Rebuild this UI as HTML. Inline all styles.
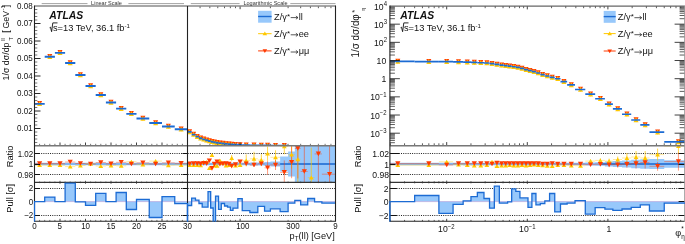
<!DOCTYPE html>
<html><head><meta charset="utf-8"><style>
html,body{margin:0;padding:0;background:#fff;width:685px;height:244px;overflow:hidden;}
svg{display:block;font-family:"Liberation Sans", sans-serif;will-change:transform;}
</style></head><body>
<svg width="685" height="244" viewBox="0 0 685 244" font-family='"Liberation Sans", sans-serif' fill="#111"><defs><clipPath id="clL"><rect x="33.5" y="182.3" width="301.5" height="39.49999999999998"/></clipPath><clipPath id="clR"><rect x="388.9" y="182.3" width="296.70000000000005" height="39.49999999999998"/></clipPath><clipPath id="clLr"><rect x="34.5" y="145.9" width="301.0" height="36.400000000000006"/></clipPath><clipPath id="clRr"><rect x="389.9" y="145.9" width="294.70000000000005" height="36.400000000000006"/></clipPath><clipPath id="clLt"><rect x="34.5" y="6.0" width="301.0" height="139.5"/></clipPath><clipPath id="clRt"><rect x="389.9" y="6.0" width="294.70000000000005" height="139.5"/></clipPath></defs>
<line x1="34.50" y1="188.50" x2="335.50" y2="188.50" stroke="#222" stroke-width="1.0" stroke-dasharray="1 1.22"/>
<line x1="34.50" y1="215.50" x2="335.50" y2="215.50" stroke="#222" stroke-width="1.0" stroke-dasharray="1 1.22"/>
<path d="M34.50,201.6 L34.50,201.60 L44.70,201.60 L44.70,197.10 L54.90,197.10 L54.90,201.60 L65.10,201.60 L65.10,183.10 L75.30,183.10 L75.30,201.80 L85.50,201.80 L85.50,205.30 L95.70,205.30 L95.70,193.30 L105.90,193.30 L105.90,201.60 L116.10,201.60 L116.10,192.50 L126.30,192.50 L126.30,209.50 L136.50,209.50 L136.50,199.40 L149.25,199.40 L149.25,217.50 L162.00,217.50 L162.00,196.60 L174.75,196.60 L174.75,203.60 L187.50,203.60 L187.50,201.6 Z" fill="#97c8fb" clip-path="url(#clL)"/>
<path d="M187.50,201.6 L187.50,205.50 L191.66,205.50 L191.66,198.10 L195.47,198.10 L195.47,200.20 L198.96,200.20 L198.96,203.50 L202.20,203.50 L202.20,207.10 L205.21,207.10 L205.21,207.10 L208.03,207.10 L208.03,191.60 L210.68,191.60 L210.68,208.00 L213.18,208.00 L213.18,223.00 L215.54,223.00 L215.54,196.10 L218.51,196.10 L218.51,209.30 L221.28,209.30 L221.28,203.50 L224.52,203.50 L224.52,206.00 L227.53,206.00 L227.53,207.10 L230.35,207.10 L230.35,210.40 L233.00,210.40 L233.00,208.20 L237.86,208.20 L237.86,198.60 L242.23,198.60 L242.23,210.70 L249.85,210.70 L249.85,212.50 L257.82,212.50 L257.82,206.30 L264.55,206.30 L264.55,211.20 L270.39,211.20 L270.39,208.80 L280.13,208.80 L280.13,211.60 L288.10,211.60 L288.10,203.10 L294.83,203.10 L294.83,200.30 L300.67,200.30 L300.67,204.90 L307.71,204.90 L307.71,198.50 L314.58,198.50 L314.58,201.80 L321.88,201.80 L321.88,203.10 L336.10,203.10 L336.10,201.6 Z" fill="#97c8fb" clip-path="url(#clL)"/>
<line x1="34.50" y1="201.60" x2="335.50" y2="201.60" stroke="#b9a6dc" stroke-width="0.7" />
<line x1="34.50" y1="153.50" x2="335.50" y2="153.50" stroke="#222" stroke-width="1.0" stroke-dasharray="1 1.22"/>
<line x1="34.50" y1="174.50" x2="335.50" y2="174.50" stroke="#222" stroke-width="1.0" stroke-dasharray="1 1.22"/>
<path d="M34.50,162.80 L44.70,162.80 L44.70,162.80 L54.90,162.80 L54.90,162.80 L65.10,162.80 L65.10,162.80 L75.30,162.80 L75.30,162.80 L85.50,162.80 L85.50,162.80 L95.70,162.80 L95.70,162.80 L105.90,162.80 L105.90,162.80 L116.10,162.80 L116.10,162.80 L126.30,162.80 L126.30,162.80 L136.50,162.80 L136.50,162.80 L149.25,162.80 L149.25,162.80 L162.00,162.80 L162.00,162.80 L174.75,162.80 L174.75,162.80 L187.50,162.80 L187.50,162.80 L191.66,162.80 L191.66,162.80 L195.47,162.80 L195.47,162.80 L198.96,162.80 L198.96,162.80 L202.20,162.80 L202.20,162.80 L205.21,162.80 L205.21,162.80 L208.03,162.80 L208.03,162.80 L210.68,162.80 L210.68,162.80 L213.18,162.80 L213.18,162.80 L215.54,162.80 L215.54,162.80 L218.51,162.80 L218.51,162.80 L221.28,162.80 L221.28,162.80 L224.52,162.80 L224.52,162.80 L227.53,162.80 L227.53,162.80 L230.35,162.80 L230.35,162.80 L233.00,162.80 L233.00,162.80 L237.86,162.80 L237.86,162.80 L242.23,162.80 L242.23,162.70 L249.85,162.70 L249.85,162.60 L257.82,162.60 L257.82,162.40 L264.55,162.40 L264.55,162.10 L270.39,162.10 L270.39,161.50 L280.13,161.50 L280.13,156.60 L288.10,156.60 L288.10,151.50 L294.83,151.50 L294.83,134.00 L300.67,134.00 L300.67,134.00 L307.71,134.00 L307.71,134.00 L314.58,134.00 L314.58,134.00 L321.88,134.00 L321.88,134.00 L336.10,134.00 L336.10,194.00 L321.88,194.00 L321.88,194.00 L314.58,194.00 L314.58,194.00 L307.71,194.00 L307.71,194.00 L300.67,194.00 L300.67,194.00 L294.83,194.00 L294.83,176.50 L288.10,176.50 L288.10,171.40 L280.13,171.40 L280.13,166.50 L270.39,166.50 L270.39,165.90 L264.55,165.90 L264.55,165.60 L257.82,165.60 L257.82,165.40 L249.85,165.40 L249.85,165.30 L242.23,165.30 L242.23,165.20 L237.86,165.20 L237.86,165.20 L233.00,165.20 L233.00,165.20 L230.35,165.20 L230.35,165.20 L227.53,165.20 L227.53,165.20 L224.52,165.20 L224.52,165.20 L221.28,165.20 L221.28,165.20 L218.51,165.20 L218.51,165.20 L215.54,165.20 L215.54,165.20 L213.18,165.20 L213.18,165.20 L210.68,165.20 L210.68,165.20 L208.03,165.20 L208.03,165.20 L205.21,165.20 L205.21,165.20 L202.20,165.20 L202.20,165.20 L198.96,165.20 L198.96,165.20 L195.47,165.20 L195.47,165.20 L191.66,165.20 L191.66,165.20 L187.50,165.20 L187.50,165.20 L174.75,165.20 L174.75,165.20 L162.00,165.20 L162.00,165.20 L149.25,165.20 L149.25,165.20 L136.50,165.20 L136.50,165.20 L126.30,165.20 L126.30,165.20 L116.10,165.20 L116.10,165.20 L105.90,165.20 L105.90,165.20 L95.70,165.20 L95.70,165.20 L85.50,165.20 L85.50,165.20 L75.30,165.20 L75.30,165.20 L65.10,165.20 L65.10,165.20 L54.90,165.20 L54.90,165.20 L44.70,165.20 L44.70,165.20 L34.50,165.20 Z" fill="#97c8fb" clip-path="url(#clLr)"/>
<line x1="34.50" y1="164.00" x2="335.50" y2="164.00" stroke="#1c6bd3" stroke-width="0.7" stroke-opacity="0.5"/>
<line x1="280.13" y1="164.00" x2="335.50" y2="164.00" stroke="#1c6bd3" stroke-width="1.4" />
<g clip-path="url(#clLr)">
<line x1="34.50" y1="165.10" x2="44.70" y2="165.10" stroke="#ffc800" stroke-width="0.7" stroke-opacity="0.55"/>
<line x1="34.50" y1="163.60" x2="44.70" y2="163.60" stroke="#ff3a00" stroke-width="0.7" stroke-opacity="0.6"/>
<line x1="44.70" y1="165.10" x2="54.90" y2="165.10" stroke="#ffc800" stroke-width="0.7" stroke-opacity="0.55"/>
<line x1="44.70" y1="163.60" x2="54.90" y2="163.60" stroke="#ff3a00" stroke-width="0.7" stroke-opacity="0.6"/>
<line x1="54.90" y1="165.10" x2="65.10" y2="165.10" stroke="#ffc800" stroke-width="0.7" stroke-opacity="0.55"/>
<line x1="54.90" y1="163.60" x2="65.10" y2="163.60" stroke="#ff3a00" stroke-width="0.7" stroke-opacity="0.6"/>
<line x1="65.10" y1="166.60" x2="75.30" y2="166.60" stroke="#ffc800" stroke-width="0.7" stroke-opacity="0.55"/>
<line x1="65.10" y1="162.00" x2="75.30" y2="162.00" stroke="#ff3a00" stroke-width="0.7" stroke-opacity="0.6"/>
<line x1="75.30" y1="165.50" x2="85.50" y2="165.50" stroke="#ffc800" stroke-width="0.7" stroke-opacity="0.55"/>
<line x1="75.30" y1="163.50" x2="85.50" y2="163.50" stroke="#ff3a00" stroke-width="0.7" stroke-opacity="0.6"/>
<line x1="85.50" y1="163.80" x2="95.70" y2="163.80" stroke="#ffc800" stroke-width="0.7" stroke-opacity="0.55"/>
<line x1="85.50" y1="164.00" x2="95.70" y2="164.00" stroke="#ff3a00" stroke-width="0.7" stroke-opacity="0.6"/>
<line x1="95.70" y1="166.00" x2="105.90" y2="166.00" stroke="#ffc800" stroke-width="0.7" stroke-opacity="0.55"/>
<line x1="95.70" y1="162.60" x2="105.90" y2="162.60" stroke="#ff3a00" stroke-width="0.7" stroke-opacity="0.6"/>
<line x1="105.90" y1="165.50" x2="116.10" y2="165.50" stroke="#ffc800" stroke-width="0.7" stroke-opacity="0.55"/>
<line x1="105.90" y1="163.80" x2="116.10" y2="163.80" stroke="#ff3a00" stroke-width="0.7" stroke-opacity="0.6"/>
<line x1="116.10" y1="165.80" x2="126.30" y2="165.80" stroke="#ffc800" stroke-width="0.7" stroke-opacity="0.55"/>
<line x1="116.10" y1="162.30" x2="126.30" y2="162.30" stroke="#ff3a00" stroke-width="0.7" stroke-opacity="0.6"/>
<line x1="126.30" y1="161.70" x2="136.50" y2="161.70" stroke="#ffc800" stroke-width="0.7" stroke-opacity="0.55"/>
<line x1="126.30" y1="164.00" x2="136.50" y2="164.00" stroke="#ff3a00" stroke-width="0.7" stroke-opacity="0.6"/>
<line x1="136.50" y1="164.60" x2="149.25" y2="164.60" stroke="#ffc800" stroke-width="0.7" stroke-opacity="0.55"/>
<line x1="136.50" y1="162.90" x2="149.25" y2="162.90" stroke="#ff3a00" stroke-width="0.7" stroke-opacity="0.6"/>
<line x1="149.25" y1="161.10" x2="162.00" y2="161.10" stroke="#ffc800" stroke-width="0.7" stroke-opacity="0.55"/>
<line x1="149.25" y1="164.00" x2="162.00" y2="164.00" stroke="#ff3a00" stroke-width="0.7" stroke-opacity="0.6"/>
<line x1="162.00" y1="165.20" x2="174.75" y2="165.20" stroke="#ffc800" stroke-width="0.7" stroke-opacity="0.55"/>
<line x1="162.00" y1="162.90" x2="174.75" y2="162.90" stroke="#ff3a00" stroke-width="0.7" stroke-opacity="0.6"/>
<line x1="174.75" y1="165.00" x2="187.50" y2="165.00" stroke="#ffc800" stroke-width="0.7" stroke-opacity="0.55"/>
<line x1="174.75" y1="163.40" x2="187.50" y2="163.40" stroke="#ff3a00" stroke-width="0.7" stroke-opacity="0.6"/>
<line x1="187.50" y1="165.00" x2="191.66" y2="165.00" stroke="#ffc800" stroke-width="0.7" stroke-opacity="0.55"/>
<line x1="187.50" y1="163.80" x2="191.66" y2="163.80" stroke="#ff3a00" stroke-width="0.7" stroke-opacity="0.6"/>
<line x1="191.66" y1="165.10" x2="195.47" y2="165.10" stroke="#ffc800" stroke-width="0.7" stroke-opacity="0.55"/>
<line x1="191.66" y1="163.60" x2="195.47" y2="163.60" stroke="#ff3a00" stroke-width="0.7" stroke-opacity="0.6"/>
<line x1="195.47" y1="165.10" x2="198.96" y2="165.10" stroke="#ffc800" stroke-width="0.7" stroke-opacity="0.55"/>
<line x1="195.47" y1="163.60" x2="198.96" y2="163.60" stroke="#ff3a00" stroke-width="0.7" stroke-opacity="0.6"/>
<line x1="198.96" y1="165.30" x2="202.20" y2="165.30" stroke="#ffc800" stroke-width="0.7" stroke-opacity="0.55"/>
<line x1="198.96" y1="163.90" x2="202.20" y2="163.90" stroke="#ff3a00" stroke-width="0.7" stroke-opacity="0.6"/>
<line x1="202.20" y1="162.10" x2="205.21" y2="162.10" stroke="#ffc800" stroke-width="0.7" stroke-opacity="0.55"/>
<line x1="202.20" y1="163.30" x2="205.21" y2="163.30" stroke="#ff3a00" stroke-width="0.7" stroke-opacity="0.6"/>
<line x1="205.21" y1="162.10" x2="208.03" y2="162.10" stroke="#ffc800" stroke-width="0.7" stroke-opacity="0.55"/>
<line x1="205.21" y1="163.60" x2="208.03" y2="163.60" stroke="#ff3a00" stroke-width="0.7" stroke-opacity="0.6"/>
<line x1="208.03" y1="168.10" x2="210.68" y2="168.10" stroke="#ffc800" stroke-width="0.7" stroke-opacity="0.55"/>
<line x1="208.03" y1="160.70" x2="210.68" y2="160.70" stroke="#ff3a00" stroke-width="0.7" stroke-opacity="0.6"/>
<line x1="210.68" y1="154.90" x2="213.18" y2="154.90" stroke="#ffc800" stroke-width="0.7" stroke-opacity="0.55"/>
<line x1="210.68" y1="168.40" x2="213.18" y2="168.40" stroke="#ff3a00" stroke-width="0.7" stroke-opacity="0.6"/>
<line x1="213.18" y1="165.40" x2="215.54" y2="165.40" stroke="#ffc800" stroke-width="0.7" stroke-opacity="0.55"/>
<line x1="213.18" y1="164.10" x2="215.54" y2="164.10" stroke="#ff3a00" stroke-width="0.7" stroke-opacity="0.6"/>
<line x1="215.54" y1="165.80" x2="218.51" y2="165.80" stroke="#ffc800" stroke-width="0.7" stroke-opacity="0.55"/>
<line x1="215.54" y1="161.90" x2="218.51" y2="161.90" stroke="#ff3a00" stroke-width="0.7" stroke-opacity="0.6"/>
<line x1="218.51" y1="160.40" x2="221.28" y2="160.40" stroke="#ffc800" stroke-width="0.7" stroke-opacity="0.55"/>
<line x1="218.51" y1="164.10" x2="221.28" y2="164.10" stroke="#ff3a00" stroke-width="0.7" stroke-opacity="0.6"/>
<line x1="221.28" y1="162.70" x2="224.52" y2="162.70" stroke="#ffc800" stroke-width="0.7" stroke-opacity="0.55"/>
<line x1="221.28" y1="163.90" x2="224.52" y2="163.90" stroke="#ff3a00" stroke-width="0.7" stroke-opacity="0.6"/>
<line x1="224.52" y1="165.60" x2="227.53" y2="165.60" stroke="#ffc800" stroke-width="0.7" stroke-opacity="0.55"/>
<line x1="224.52" y1="163.60" x2="227.53" y2="163.60" stroke="#ff3a00" stroke-width="0.7" stroke-opacity="0.6"/>
<line x1="227.53" y1="165.10" x2="230.35" y2="165.10" stroke="#ffc800" stroke-width="0.7" stroke-opacity="0.55"/>
<line x1="227.53" y1="164.10" x2="230.35" y2="164.10" stroke="#ff3a00" stroke-width="0.7" stroke-opacity="0.6"/>
<line x1="230.35" y1="158.00" x2="233.00" y2="158.00" stroke="#ffc800" stroke-width="0.7" stroke-opacity="0.55"/>
<line x1="230.35" y1="166.10" x2="233.00" y2="166.10" stroke="#ff3a00" stroke-width="0.7" stroke-opacity="0.6"/>
<line x1="233.00" y1="165.40" x2="237.86" y2="165.40" stroke="#ffc800" stroke-width="0.7" stroke-opacity="0.55"/>
<line x1="233.00" y1="164.60" x2="237.86" y2="164.60" stroke="#ff3a00" stroke-width="0.7" stroke-opacity="0.6"/>
<line x1="237.86" y1="165.00" x2="242.23" y2="165.00" stroke="#ffc800" stroke-width="0.7" stroke-opacity="0.55"/>
<line x1="237.86" y1="161.90" x2="242.23" y2="161.90" stroke="#ff3a00" stroke-width="0.7" stroke-opacity="0.6"/>
<line x1="242.23" y1="160.40" x2="249.85" y2="160.40" stroke="#ffc800" stroke-width="0.7" stroke-opacity="0.55"/>
<line x1="242.23" y1="163.80" x2="249.85" y2="163.80" stroke="#ff3a00" stroke-width="0.7" stroke-opacity="0.6"/>
<line x1="249.85" y1="158.80" x2="257.82" y2="158.80" stroke="#ffc800" stroke-width="0.7" stroke-opacity="0.55"/>
<line x1="249.85" y1="165.00" x2="257.82" y2="165.00" stroke="#ff3a00" stroke-width="0.7" stroke-opacity="0.6"/>
<line x1="257.82" y1="160.10" x2="264.55" y2="160.10" stroke="#ffc800" stroke-width="0.7" stroke-opacity="0.55"/>
<line x1="257.82" y1="163.80" x2="264.55" y2="163.80" stroke="#ff3a00" stroke-width="0.7" stroke-opacity="0.6"/>
<line x1="264.55" y1="153.60" x2="270.39" y2="153.60" stroke="#ffc800" stroke-width="0.7" stroke-opacity="0.55"/>
<line x1="264.55" y1="167.80" x2="270.39" y2="167.80" stroke="#ff3a00" stroke-width="0.7" stroke-opacity="0.6"/>
<line x1="270.39" y1="157.30" x2="280.13" y2="157.30" stroke="#ffc800" stroke-width="0.7" stroke-opacity="0.55"/>
<line x1="270.39" y1="165.00" x2="280.13" y2="165.00" stroke="#ff3a00" stroke-width="0.7" stroke-opacity="0.6"/>
<line x1="280.13" y1="146.30" x2="288.10" y2="146.30" stroke="#ffc800" stroke-width="0.7" stroke-opacity="0.55"/>
<line x1="280.13" y1="172.40" x2="288.10" y2="172.40" stroke="#ff3a00" stroke-width="0.7" stroke-opacity="0.6"/>
<line x1="288.10" y1="154.60" x2="294.83" y2="154.60" stroke="#ffc800" stroke-width="0.7" stroke-opacity="0.55"/>
<line x1="288.10" y1="162.20" x2="294.83" y2="162.20" stroke="#ff3a00" stroke-width="0.7" stroke-opacity="0.6"/>
<line x1="294.83" y1="159.20" x2="300.67" y2="159.20" stroke="#ffc800" stroke-width="0.7" stroke-opacity="0.55"/>
<line x1="294.83" y1="148.40" x2="300.67" y2="148.40" stroke="#ff3a00" stroke-width="0.7" stroke-opacity="0.6"/>
<line x1="300.67" y1="205.10" x2="307.71" y2="205.10" stroke="#ffc800" stroke-width="0.7" stroke-opacity="0.55"/>
<line x1="300.67" y1="171.50" x2="307.71" y2="171.50" stroke="#ff3a00" stroke-width="0.7" stroke-opacity="0.6"/>
<line x1="307.71" y1="177.60" x2="314.58" y2="177.60" stroke="#ffc800" stroke-width="0.7" stroke-opacity="0.55"/>
<line x1="307.71" y1="193.60" x2="314.58" y2="193.60" stroke="#ff3a00" stroke-width="0.7" stroke-opacity="0.6"/>
<line x1="314.58" y1="205.10" x2="321.88" y2="205.10" stroke="#ffc800" stroke-width="0.7" stroke-opacity="0.55"/>
<line x1="314.58" y1="153.90" x2="321.88" y2="153.90" stroke="#ff3a00" stroke-width="0.7" stroke-opacity="0.6"/>
<line x1="321.88" y1="205.10" x2="336.10" y2="205.10" stroke="#ffc800" stroke-width="0.7" stroke-opacity="0.55"/>
<line x1="321.88" y1="174.20" x2="336.10" y2="174.20" stroke="#ff3a00" stroke-width="0.7" stroke-opacity="0.6"/>
<line x1="231.70" y1="155.00" x2="231.70" y2="161.00" stroke="#ffc800" stroke-width="1.0" stroke-opacity="0.7"/>
<line x1="240.10" y1="163.50" x2="240.10" y2="166.50" stroke="#ffc800" stroke-width="1.0" stroke-opacity="0.7"/>
<line x1="246.21" y1="154.40" x2="246.21" y2="166.40" stroke="#ffc800" stroke-width="1.0" stroke-opacity="0.7"/>
<line x1="246.21" y1="162.30" x2="246.21" y2="165.30" stroke="#ff3a00" stroke-width="1.0" stroke-opacity="0.5"/>
<line x1="254.01" y1="151.80" x2="254.01" y2="165.80" stroke="#ffc800" stroke-width="1.0" stroke-opacity="0.7"/>
<line x1="254.01" y1="163.00" x2="254.01" y2="167.00" stroke="#ff3a00" stroke-width="1.0" stroke-opacity="0.5"/>
<line x1="261.31" y1="154.10" x2="261.31" y2="166.10" stroke="#ffc800" stroke-width="1.0" stroke-opacity="0.7"/>
<line x1="261.31" y1="161.80" x2="261.31" y2="165.80" stroke="#ff3a00" stroke-width="1.0" stroke-opacity="0.5"/>
<line x1="267.57" y1="146.60" x2="267.57" y2="160.60" stroke="#ffc800" stroke-width="1.0" stroke-opacity="0.7"/>
<line x1="267.57" y1="160.80" x2="267.57" y2="174.80" stroke="#ff3a00" stroke-width="1.0" stroke-opacity="0.5"/>
<line x1="275.53" y1="150.30" x2="275.53" y2="164.30" stroke="#ffc800" stroke-width="1.0" stroke-opacity="0.7"/>
<line x1="275.53" y1="160.00" x2="275.53" y2="170.00" stroke="#ff3a00" stroke-width="1.0" stroke-opacity="0.5"/>
<line x1="284.30" y1="138.30" x2="284.30" y2="154.30" stroke="#ffc800" stroke-width="1.0" stroke-opacity="0.7"/>
<line x1="284.30" y1="160.40" x2="284.30" y2="184.40" stroke="#ff3a00" stroke-width="1.0" stroke-opacity="0.5"/>
<line x1="291.60" y1="140.60" x2="291.60" y2="168.60" stroke="#ffc800" stroke-width="1.0" stroke-opacity="0.7"/>
<line x1="291.60" y1="146.20" x2="291.60" y2="178.20" stroke="#ff3a00" stroke-width="1.0" stroke-opacity="0.5"/>
<line x1="297.85" y1="129.20" x2="297.85" y2="189.20" stroke="#ffc800" stroke-width="1.0" stroke-opacity="0.7"/>
<line x1="297.85" y1="118.40" x2="297.85" y2="178.40" stroke="#ff3a00" stroke-width="1.0" stroke-opacity="0.5"/>
<line x1="304.33" y1="141.50" x2="304.33" y2="201.50" stroke="#ff3a00" stroke-width="1.0" stroke-opacity="0.5"/>
<line x1="311.28" y1="147.60" x2="311.28" y2="207.60" stroke="#ffc800" stroke-width="1.0" stroke-opacity="0.7"/>
<line x1="318.38" y1="123.90" x2="318.38" y2="183.90" stroke="#ff3a00" stroke-width="1.0" stroke-opacity="0.5"/>
<line x1="329.57" y1="144.20" x2="329.57" y2="204.20" stroke="#ff3a00" stroke-width="1.0" stroke-opacity="0.5"/>
<polygon points="37.20,167.10 42.00,167.10 39.60,163.10" fill="#ffc800"/>
<polygon points="47.40,167.10 52.20,167.10 49.80,163.10" fill="#ffc800"/>
<polygon points="57.60,167.10 62.40,167.10 60.00,163.10" fill="#ffc800"/>
<polygon points="67.80,168.60 72.60,168.60 70.20,164.60" fill="#ffc800"/>
<polygon points="78.00,167.50 82.80,167.50 80.40,163.50" fill="#ffc800"/>
<polygon points="88.20,165.80 93.00,165.80 90.60,161.80" fill="#ffc800"/>
<polygon points="98.40,168.00 103.20,168.00 100.80,164.00" fill="#ffc800"/>
<polygon points="108.60,167.50 113.40,167.50 111.00,163.50" fill="#ffc800"/>
<polygon points="118.80,167.80 123.60,167.80 121.20,163.80" fill="#ffc800"/>
<polygon points="129.00,163.70 133.80,163.70 131.40,159.70" fill="#ffc800"/>
<polygon points="140.47,166.60 145.28,166.60 142.88,162.60" fill="#ffc800"/>
<polygon points="153.22,163.10 158.03,163.10 155.62,159.10" fill="#ffc800"/>
<polygon points="165.97,167.20 170.78,167.20 168.38,163.20" fill="#ffc800"/>
<polygon points="178.72,167.00 183.53,167.00 181.12,163.00" fill="#ffc800"/>
<polygon points="187.23,167.00 192.03,167.00 189.63,163.00" fill="#ffc800"/>
<polygon points="191.21,167.10 196.01,167.10 193.61,163.10" fill="#ffc800"/>
<polygon points="194.85,167.10 199.65,167.10 197.25,163.10" fill="#ffc800"/>
<polygon points="198.21,167.30 203.01,167.30 200.61,163.30" fill="#ffc800"/>
<polygon points="201.33,164.10 206.13,164.10 203.73,160.10" fill="#ffc800"/>
<polygon points="204.25,164.10 209.05,164.10 206.65,160.10" fill="#ffc800"/>
<polygon points="206.98,170.10 211.78,170.10 209.38,166.10" fill="#ffc800"/>
<polygon points="209.55,156.90 214.35,156.90 211.95,152.90" fill="#ffc800"/>
<polygon points="211.98,167.40 216.78,167.40 214.38,163.40" fill="#ffc800"/>
<polygon points="214.65,167.80 219.45,167.80 217.05,163.80" fill="#ffc800"/>
<polygon points="217.52,162.40 222.32,162.40 219.92,158.40" fill="#ffc800"/>
<polygon points="220.53,164.70 225.33,164.70 222.93,160.70" fill="#ffc800"/>
<polygon points="223.65,167.60 228.45,167.60 226.05,163.60" fill="#ffc800"/>
<polygon points="226.57,167.10 231.37,167.10 228.97,163.10" fill="#ffc800"/>
<polygon points="229.30,160.00 234.10,160.00 231.70,156.00" fill="#ffc800"/>
<polygon points="233.10,167.40 237.90,167.40 235.50,163.40" fill="#ffc800"/>
<polygon points="237.70,167.00 242.50,167.00 240.10,163.00" fill="#ffc800"/>
<polygon points="243.81,162.40 248.61,162.40 246.21,158.40" fill="#ffc800"/>
<polygon points="251.61,160.80 256.41,160.80 254.01,156.80" fill="#ffc800"/>
<polygon points="258.91,162.10 263.71,162.10 261.31,158.10" fill="#ffc800"/>
<polygon points="265.17,155.60 269.97,155.60 267.57,151.60" fill="#ffc800"/>
<polygon points="273.13,159.30 277.93,159.30 275.53,155.30" fill="#ffc800"/>
<polygon points="281.90,148.30 286.70,148.30 284.30,144.30" fill="#ffc800"/>
<polygon points="289.20,156.60 294.00,156.60 291.60,152.60" fill="#ffc800"/>
<polygon points="295.45,161.20 300.25,161.20 297.85,157.20" fill="#ffc800"/>
<polygon points="301.93,207.10 306.73,207.10 304.33,203.10" fill="#ffc800"/>
<polygon points="308.88,179.60 313.68,179.60 311.28,175.60" fill="#ffc800"/>
<polygon points="315.98,207.10 320.78,207.10 318.38,203.10" fill="#ffc800"/>
<polygon points="327.17,207.10 331.97,207.10 329.57,203.10" fill="#ffc800"/>
<polygon points="37.00,161.30 42.20,161.30 39.60,165.90" fill="#ff3a00"/>
<polygon points="47.20,161.30 52.40,161.30 49.80,165.90" fill="#ff3a00"/>
<polygon points="57.40,161.30 62.60,161.30 60.00,165.90" fill="#ff3a00"/>
<polygon points="67.60,159.70 72.80,159.70 70.20,164.30" fill="#ff3a00"/>
<polygon points="77.80,161.20 83.00,161.20 80.40,165.80" fill="#ff3a00"/>
<polygon points="88.00,161.70 93.20,161.70 90.60,166.30" fill="#ff3a00"/>
<polygon points="98.20,160.30 103.40,160.30 100.80,164.90" fill="#ff3a00"/>
<polygon points="108.40,161.50 113.60,161.50 111.00,166.10" fill="#ff3a00"/>
<polygon points="118.60,160.00 123.80,160.00 121.20,164.60" fill="#ff3a00"/>
<polygon points="128.80,161.70 134.00,161.70 131.40,166.30" fill="#ff3a00"/>
<polygon points="140.28,160.60 145.47,160.60 142.88,165.20" fill="#ff3a00"/>
<polygon points="153.03,161.70 158.22,161.70 155.62,166.30" fill="#ff3a00"/>
<polygon points="165.78,160.60 170.97,160.60 168.38,165.20" fill="#ff3a00"/>
<polygon points="178.53,161.10 183.72,161.10 181.12,165.70" fill="#ff3a00"/>
<polygon points="187.03,161.50 192.23,161.50 189.63,166.10" fill="#ff3a00"/>
<polygon points="191.01,161.30 196.21,161.30 193.61,165.90" fill="#ff3a00"/>
<polygon points="194.65,161.30 199.85,161.30 197.25,165.90" fill="#ff3a00"/>
<polygon points="198.01,161.60 203.21,161.60 200.61,166.20" fill="#ff3a00"/>
<polygon points="201.13,161.00 206.33,161.00 203.73,165.60" fill="#ff3a00"/>
<polygon points="204.05,161.30 209.25,161.30 206.65,165.90" fill="#ff3a00"/>
<polygon points="206.78,158.40 211.98,158.40 209.38,163.00" fill="#ff3a00"/>
<polygon points="209.35,166.10 214.55,166.10 211.95,170.70" fill="#ff3a00"/>
<polygon points="211.78,161.80 216.98,161.80 214.38,166.40" fill="#ff3a00"/>
<polygon points="214.45,159.60 219.65,159.60 217.05,164.20" fill="#ff3a00"/>
<polygon points="217.32,161.80 222.52,161.80 219.92,166.40" fill="#ff3a00"/>
<polygon points="220.33,161.60 225.53,161.60 222.93,166.20" fill="#ff3a00"/>
<polygon points="223.45,161.30 228.65,161.30 226.05,165.90" fill="#ff3a00"/>
<polygon points="226.37,161.80 231.57,161.80 228.97,166.40" fill="#ff3a00"/>
<polygon points="229.10,163.80 234.30,163.80 231.70,168.40" fill="#ff3a00"/>
<polygon points="232.90,162.30 238.10,162.30 235.50,166.90" fill="#ff3a00"/>
<polygon points="237.50,159.60 242.70,159.60 240.10,164.20" fill="#ff3a00"/>
<polygon points="243.61,161.50 248.81,161.50 246.21,166.10" fill="#ff3a00"/>
<polygon points="251.41,162.70 256.61,162.70 254.01,167.30" fill="#ff3a00"/>
<polygon points="258.71,161.50 263.91,161.50 261.31,166.10" fill="#ff3a00"/>
<polygon points="264.97,165.50 270.17,165.50 267.57,170.10" fill="#ff3a00"/>
<polygon points="272.93,162.70 278.13,162.70 275.53,167.30" fill="#ff3a00"/>
<polygon points="281.70,170.10 286.90,170.10 284.30,174.70" fill="#ff3a00"/>
<polygon points="289.00,159.90 294.20,159.90 291.60,164.50" fill="#ff3a00"/>
<polygon points="295.25,146.10 300.45,146.10 297.85,150.70" fill="#ff3a00"/>
<polygon points="301.73,169.20 306.93,169.20 304.33,173.80" fill="#ff3a00"/>
<polygon points="308.68,191.30 313.88,191.30 311.28,195.90" fill="#ff3a00"/>
<polygon points="315.78,151.60 320.98,151.60 318.38,156.20" fill="#ff3a00"/>
<polygon points="326.97,171.90 332.17,171.90 329.57,176.50" fill="#ff3a00"/>
</g>
<g clip-path="url(#clLt)">
<polygon points="37.10,101.10 42.10,101.10 39.60,106.10" fill="#ff3a00"/>
<polygon points="47.30,54.00 52.30,54.00 49.80,59.00" fill="#ff3a00"/>
<polygon points="57.50,50.10 62.50,50.10 60.00,55.10" fill="#ff3a00"/>
<polygon points="67.70,60.30 72.70,60.30 70.20,65.30" fill="#ff3a00"/>
<polygon points="77.90,72.20 82.90,72.20 80.40,77.20" fill="#ff3a00"/>
<polygon points="88.10,83.20 93.10,83.20 90.60,88.20" fill="#ff3a00"/>
<polygon points="98.30,92.30 103.30,92.30 100.80,97.30" fill="#ff3a00"/>
<polygon points="108.50,99.70 113.50,99.70 111.00,104.70" fill="#ff3a00"/>
<polygon points="118.70,105.90 123.70,105.90 121.20,110.90" fill="#ff3a00"/>
<polygon points="128.90,111.10 133.90,111.10 131.40,116.10" fill="#ff3a00"/>
<polygon points="140.38,115.80 145.38,115.80 142.88,120.80" fill="#ff3a00"/>
<polygon points="153.12,120.30 158.12,120.30 155.62,125.30" fill="#ff3a00"/>
<polygon points="165.88,123.80 170.88,123.80 168.38,128.80" fill="#ff3a00"/>
<polygon points="178.62,126.50 183.62,126.50 181.12,131.50" fill="#ff3a00"/>
<polygon points="187.13,129.15 192.13,129.15 189.63,134.15" fill="#ff3a00"/>
<polygon points="191.11,131.87 196.11,131.87 193.61,136.87" fill="#ff3a00"/>
<polygon points="194.75,133.89 199.75,133.89 197.25,138.89" fill="#ff3a00"/>
<polygon points="198.11,135.43 203.11,135.43 200.61,140.43" fill="#ff3a00"/>
<polygon points="201.23,136.62 206.23,136.62 203.73,141.62" fill="#ff3a00"/>
<polygon points="204.15,137.56 209.15,137.56 206.65,142.56" fill="#ff3a00"/>
<polygon points="206.88,138.32 211.88,138.32 209.38,143.32" fill="#ff3a00"/>
<polygon points="209.45,138.94 214.45,138.94 211.95,143.94" fill="#ff3a00"/>
<polygon points="211.88,139.44 216.88,139.44 214.38,144.44" fill="#ff3a00"/>
<polygon points="214.55,139.93 219.55,139.93 217.05,144.93" fill="#ff3a00"/>
<polygon points="217.42,140.38 222.42,140.38 219.92,145.38" fill="#ff3a00"/>
<polygon points="220.43,140.78 225.43,140.78 222.93,145.78" fill="#ff3a00"/>
<polygon points="223.55,141.13 228.55,141.13 226.05,146.13" fill="#ff3a00"/>
<polygon points="226.47,141.40 231.47,141.40 228.97,146.40" fill="#ff3a00"/>
<polygon points="229.20,141.63 234.20,141.63 231.70,146.63" fill="#ff3a00"/>
<polygon points="233.00,141.89 238.00,141.89 235.50,146.89" fill="#ff3a00"/>
<polygon points="237.60,142.13 242.60,142.13 240.10,147.13" fill="#ff3a00"/>
<polygon points="243.71,142.38 248.71,142.38 246.21,147.38" fill="#ff3a00"/>
<polygon points="251.51,142.60 256.51,142.60 254.01,147.60" fill="#ff3a00"/>
<polygon points="258.81,142.73 263.81,142.73 261.31,147.73" fill="#ff3a00"/>
<polygon points="265.07,142.81 270.07,142.81 267.57,147.81" fill="#ff3a00"/>
<polygon points="273.03,142.88 278.03,142.88 275.53,147.88" fill="#ff3a00"/>
<polygon points="281.80,142.92 286.80,142.92 284.30,147.92" fill="#ff3a00"/>
<polygon points="37.10,106.10 42.10,106.10 39.60,101.10" fill="#ffc800"/>
<polygon points="47.30,59.00 52.30,59.00 49.80,54.00" fill="#ffc800"/>
<polygon points="57.50,55.10 62.50,55.10 60.00,50.10" fill="#ffc800"/>
<polygon points="67.70,65.30 72.70,65.30 70.20,60.30" fill="#ffc800"/>
<polygon points="77.90,77.20 82.90,77.20 80.40,72.20" fill="#ffc800"/>
<polygon points="88.10,88.20 93.10,88.20 90.60,83.20" fill="#ffc800"/>
<polygon points="98.30,97.30 103.30,97.30 100.80,92.30" fill="#ffc800"/>
<polygon points="108.50,104.70 113.50,104.70 111.00,99.70" fill="#ffc800"/>
<polygon points="118.70,110.90 123.70,110.90 121.20,105.90" fill="#ffc800"/>
<polygon points="128.90,116.10 133.90,116.10 131.40,111.10" fill="#ffc800"/>
<polygon points="140.38,120.80 145.38,120.80 142.88,115.80" fill="#ffc800"/>
<polygon points="153.12,125.30 158.12,125.30 155.62,120.30" fill="#ffc800"/>
<polygon points="165.88,128.80 170.88,128.80 168.38,123.80" fill="#ffc800"/>
<polygon points="178.62,131.50 183.62,131.50 181.12,126.50" fill="#ffc800"/>
<polygon points="187.13,134.15 192.13,134.15 189.63,129.15" fill="#ffc800"/>
<polygon points="191.11,136.87 196.11,136.87 193.61,131.87" fill="#ffc800"/>
<polygon points="194.75,138.89 199.75,138.89 197.25,133.89" fill="#ffc800"/>
<polygon points="198.11,140.43 203.11,140.43 200.61,135.43" fill="#ffc800"/>
<polygon points="201.23,141.62 206.23,141.62 203.73,136.62" fill="#ffc800"/>
<polygon points="204.15,142.56 209.15,142.56 206.65,137.56" fill="#ffc800"/>
<polygon points="206.88,143.32 211.88,143.32 209.38,138.32" fill="#ffc800"/>
<polygon points="209.45,143.94 214.45,143.94 211.95,138.94" fill="#ffc800"/>
<polygon points="211.88,144.44 216.88,144.44 214.38,139.44" fill="#ffc800"/>
<polygon points="214.55,144.93 219.55,144.93 217.05,139.93" fill="#ffc800"/>
<polygon points="217.42,145.38 222.42,145.38 219.92,140.38" fill="#ffc800"/>
<polygon points="220.43,145.78 225.43,145.78 222.93,140.78" fill="#ffc800"/>
<polygon points="223.55,146.13 228.55,146.13 226.05,141.13" fill="#ffc800"/>
<polygon points="226.47,146.40 231.47,146.40 228.97,141.40" fill="#ffc800"/>
<polygon points="229.20,146.63 234.20,146.63 231.70,141.63" fill="#ffc800"/>
<polygon points="233.00,146.89 238.00,146.89 235.50,141.89" fill="#ffc800"/>
<polygon points="237.60,147.13 242.60,147.13 240.10,142.13" fill="#ffc800"/>
<polygon points="243.71,147.38 248.71,147.38 246.21,142.38" fill="#ffc800"/>
<polygon points="251.51,147.60 256.51,147.60 254.01,142.60" fill="#ffc800"/>
<polygon points="258.81,147.73 263.81,147.73 261.31,142.73" fill="#ffc800"/>
<polygon points="265.07,147.81 270.07,147.81 267.57,142.81" fill="#ffc800"/>
<polygon points="273.03,147.88 278.03,147.88 275.53,142.88" fill="#ffc800"/>
<polygon points="281.80,147.92 286.80,147.92 284.30,142.92" fill="#ffc800"/>
<line x1="34.50" y1="103.85" x2="44.70" y2="103.85" stroke="#1c6bd3" stroke-width="1.9" />
<line x1="44.70" y1="56.75" x2="54.90" y2="56.75" stroke="#1c6bd3" stroke-width="1.9" />
<line x1="54.90" y1="52.85" x2="65.10" y2="52.85" stroke="#1c6bd3" stroke-width="1.9" />
<line x1="65.10" y1="63.05" x2="75.30" y2="63.05" stroke="#1c6bd3" stroke-width="1.9" />
<line x1="75.30" y1="74.95" x2="85.50" y2="74.95" stroke="#1c6bd3" stroke-width="1.9" />
<line x1="85.50" y1="85.95" x2="95.70" y2="85.95" stroke="#1c6bd3" stroke-width="1.9" />
<line x1="95.70" y1="95.05" x2="105.90" y2="95.05" stroke="#1c6bd3" stroke-width="1.9" />
<line x1="105.90" y1="102.45" x2="116.10" y2="102.45" stroke="#1c6bd3" stroke-width="1.9" />
<line x1="116.10" y1="108.65" x2="126.30" y2="108.65" stroke="#1c6bd3" stroke-width="1.9" />
<line x1="126.30" y1="113.85" x2="136.50" y2="113.85" stroke="#1c6bd3" stroke-width="1.9" />
<line x1="136.50" y1="118.55" x2="149.25" y2="118.55" stroke="#1c6bd3" stroke-width="1.9" />
<line x1="149.25" y1="123.05" x2="162.00" y2="123.05" stroke="#1c6bd3" stroke-width="1.9" />
<line x1="162.00" y1="126.55" x2="174.75" y2="126.55" stroke="#1c6bd3" stroke-width="1.9" />
<line x1="174.75" y1="129.25" x2="187.50" y2="129.25" stroke="#1c6bd3" stroke-width="1.9" />
<line x1="187.50" y1="131.90" x2="191.66" y2="131.90" stroke="#1c6bd3" stroke-width="1.9" />
<line x1="191.66" y1="134.62" x2="195.47" y2="134.62" stroke="#1c6bd3" stroke-width="1.9" />
<line x1="195.47" y1="136.64" x2="198.96" y2="136.64" stroke="#1c6bd3" stroke-width="1.9" />
<line x1="198.96" y1="138.18" x2="202.20" y2="138.18" stroke="#1c6bd3" stroke-width="1.9" />
<line x1="202.20" y1="139.37" x2="205.21" y2="139.37" stroke="#1c6bd3" stroke-width="1.9" />
<line x1="205.21" y1="140.31" x2="208.03" y2="140.31" stroke="#1c6bd3" stroke-width="1.9" />
<line x1="208.03" y1="141.07" x2="210.68" y2="141.07" stroke="#1c6bd3" stroke-width="1.9" />
<line x1="210.68" y1="141.69" x2="213.18" y2="141.69" stroke="#1c6bd3" stroke-width="1.9" />
<line x1="213.18" y1="142.19" x2="215.54" y2="142.19" stroke="#1c6bd3" stroke-width="1.9" />
<line x1="215.54" y1="142.68" x2="218.51" y2="142.68" stroke="#1c6bd3" stroke-width="1.9" />
<line x1="218.51" y1="143.13" x2="221.28" y2="143.13" stroke="#1c6bd3" stroke-width="1.9" />
<line x1="221.28" y1="143.53" x2="224.52" y2="143.53" stroke="#1c6bd3" stroke-width="1.9" />
<line x1="224.52" y1="143.88" x2="227.53" y2="143.88" stroke="#1c6bd3" stroke-width="1.9" />
<line x1="227.53" y1="144.15" x2="230.35" y2="144.15" stroke="#1c6bd3" stroke-width="1.9" />
<line x1="230.35" y1="144.38" x2="233.00" y2="144.38" stroke="#1c6bd3" stroke-width="1.9" />
<line x1="233.00" y1="144.64" x2="237.86" y2="144.64" stroke="#1c6bd3" stroke-width="1.9" />
<line x1="237.86" y1="144.88" x2="242.23" y2="144.88" stroke="#1c6bd3" stroke-width="1.9" />
<line x1="242.23" y1="145.13" x2="249.85" y2="145.13" stroke="#1c6bd3" stroke-width="1.9" />
<line x1="249.85" y1="145.35" x2="257.82" y2="145.35" stroke="#1c6bd3" stroke-width="1.9" />
<line x1="257.82" y1="145.48" x2="264.55" y2="145.48" stroke="#1c6bd3" stroke-width="1.9" />
<line x1="264.55" y1="145.56" x2="270.39" y2="145.56" stroke="#1c6bd3" stroke-width="1.9" />
<line x1="270.39" y1="145.63" x2="280.13" y2="145.63" stroke="#1c6bd3" stroke-width="1.9" />
<line x1="280.13" y1="145.67" x2="288.10" y2="145.67" stroke="#1c6bd3" stroke-width="1.9" />
</g>
<line x1="34.50" y1="142.50" x2="37.30" y2="142.50" stroke="#555" stroke-width="0.8" />
<line x1="34.50" y1="139.00" x2="37.30" y2="139.00" stroke="#555" stroke-width="0.8" />
<line x1="34.50" y1="135.50" x2="37.30" y2="135.50" stroke="#555" stroke-width="0.8" />
<line x1="34.50" y1="132.00" x2="37.30" y2="132.00" stroke="#555" stroke-width="0.8" />
<line x1="34.50" y1="128.50" x2="40.50" y2="128.50" stroke="#111" stroke-width="0.9" />
<line x1="34.50" y1="125.00" x2="37.30" y2="125.00" stroke="#555" stroke-width="0.8" />
<line x1="34.50" y1="121.50" x2="37.30" y2="121.50" stroke="#555" stroke-width="0.8" />
<line x1="34.50" y1="118.00" x2="37.30" y2="118.00" stroke="#555" stroke-width="0.8" />
<line x1="34.50" y1="114.50" x2="37.30" y2="114.50" stroke="#555" stroke-width="0.8" />
<line x1="34.50" y1="111.00" x2="40.50" y2="111.00" stroke="#111" stroke-width="0.9" />
<line x1="34.50" y1="107.50" x2="37.30" y2="107.50" stroke="#555" stroke-width="0.8" />
<line x1="34.50" y1="104.00" x2="37.30" y2="104.00" stroke="#555" stroke-width="0.8" />
<line x1="34.50" y1="100.50" x2="37.30" y2="100.50" stroke="#555" stroke-width="0.8" />
<line x1="34.50" y1="97.00" x2="37.30" y2="97.00" stroke="#555" stroke-width="0.8" />
<line x1="34.50" y1="93.50" x2="40.50" y2="93.50" stroke="#111" stroke-width="0.9" />
<line x1="34.50" y1="90.00" x2="37.30" y2="90.00" stroke="#555" stroke-width="0.8" />
<line x1="34.50" y1="86.50" x2="37.30" y2="86.50" stroke="#555" stroke-width="0.8" />
<line x1="34.50" y1="83.00" x2="37.30" y2="83.00" stroke="#555" stroke-width="0.8" />
<line x1="34.50" y1="79.50" x2="37.30" y2="79.50" stroke="#555" stroke-width="0.8" />
<line x1="34.50" y1="76.00" x2="40.50" y2="76.00" stroke="#111" stroke-width="0.9" />
<line x1="34.50" y1="72.50" x2="37.30" y2="72.50" stroke="#555" stroke-width="0.8" />
<line x1="34.50" y1="69.00" x2="37.30" y2="69.00" stroke="#555" stroke-width="0.8" />
<line x1="34.50" y1="65.50" x2="37.30" y2="65.50" stroke="#555" stroke-width="0.8" />
<line x1="34.50" y1="62.00" x2="37.30" y2="62.00" stroke="#555" stroke-width="0.8" />
<line x1="34.50" y1="58.50" x2="40.50" y2="58.50" stroke="#111" stroke-width="0.9" />
<line x1="34.50" y1="55.00" x2="37.30" y2="55.00" stroke="#555" stroke-width="0.8" />
<line x1="34.50" y1="51.50" x2="37.30" y2="51.50" stroke="#555" stroke-width="0.8" />
<line x1="34.50" y1="48.00" x2="37.30" y2="48.00" stroke="#555" stroke-width="0.8" />
<line x1="34.50" y1="44.50" x2="37.30" y2="44.50" stroke="#555" stroke-width="0.8" />
<line x1="34.50" y1="41.00" x2="40.50" y2="41.00" stroke="#111" stroke-width="0.9" />
<line x1="34.50" y1="37.50" x2="37.30" y2="37.50" stroke="#555" stroke-width="0.8" />
<line x1="34.50" y1="34.00" x2="37.30" y2="34.00" stroke="#555" stroke-width="0.8" />
<line x1="34.50" y1="30.50" x2="37.30" y2="30.50" stroke="#555" stroke-width="0.8" />
<line x1="34.50" y1="27.00" x2="37.30" y2="27.00" stroke="#555" stroke-width="0.8" />
<line x1="34.50" y1="23.50" x2="40.50" y2="23.50" stroke="#111" stroke-width="0.9" />
<line x1="34.50" y1="20.00" x2="37.30" y2="20.00" stroke="#555" stroke-width="0.8" />
<line x1="34.50" y1="16.50" x2="37.30" y2="16.50" stroke="#555" stroke-width="0.8" />
<line x1="34.50" y1="13.00" x2="37.30" y2="13.00" stroke="#555" stroke-width="0.8" />
<line x1="34.50" y1="9.50" x2="37.30" y2="9.50" stroke="#555" stroke-width="0.8" />
<line x1="39.60" y1="145.50" x2="39.60" y2="143.80" stroke="#555" stroke-width="0.8" />
<line x1="39.60" y1="182.30" x2="39.60" y2="181.45" stroke="#555" stroke-width="0.7" />
<line x1="39.60" y1="182.30" x2="39.60" y2="183.15" stroke="#555" stroke-width="0.7" />
<line x1="39.60" y1="221.20" x2="39.60" y2="219.90" stroke="#555" stroke-width="0.8" />
<line x1="44.70" y1="145.50" x2="44.70" y2="143.80" stroke="#555" stroke-width="0.8" />
<line x1="44.70" y1="182.30" x2="44.70" y2="181.45" stroke="#555" stroke-width="0.7" />
<line x1="44.70" y1="182.30" x2="44.70" y2="183.15" stroke="#555" stroke-width="0.7" />
<line x1="44.70" y1="221.20" x2="44.70" y2="219.90" stroke="#555" stroke-width="0.8" />
<line x1="49.80" y1="145.50" x2="49.80" y2="143.80" stroke="#555" stroke-width="0.8" />
<line x1="49.80" y1="182.30" x2="49.80" y2="181.45" stroke="#555" stroke-width="0.7" />
<line x1="49.80" y1="182.30" x2="49.80" y2="183.15" stroke="#555" stroke-width="0.7" />
<line x1="49.80" y1="221.20" x2="49.80" y2="219.90" stroke="#555" stroke-width="0.8" />
<line x1="54.90" y1="145.50" x2="54.90" y2="143.80" stroke="#555" stroke-width="0.8" />
<line x1="54.90" y1="182.30" x2="54.90" y2="181.45" stroke="#555" stroke-width="0.7" />
<line x1="54.90" y1="182.30" x2="54.90" y2="183.15" stroke="#555" stroke-width="0.7" />
<line x1="54.90" y1="221.20" x2="54.90" y2="219.90" stroke="#555" stroke-width="0.8" />
<line x1="60.00" y1="145.50" x2="60.00" y2="142.50" stroke="#111" stroke-width="0.8" />
<line x1="60.00" y1="182.30" x2="60.00" y2="180.80" stroke="#111" stroke-width="0.7" />
<line x1="60.00" y1="182.30" x2="60.00" y2="183.80" stroke="#111" stroke-width="0.7" />
<line x1="60.00" y1="221.20" x2="60.00" y2="218.80" stroke="#111" stroke-width="0.8" />
<line x1="65.10" y1="145.50" x2="65.10" y2="143.80" stroke="#555" stroke-width="0.8" />
<line x1="65.10" y1="182.30" x2="65.10" y2="181.45" stroke="#555" stroke-width="0.7" />
<line x1="65.10" y1="182.30" x2="65.10" y2="183.15" stroke="#555" stroke-width="0.7" />
<line x1="65.10" y1="221.20" x2="65.10" y2="219.90" stroke="#555" stroke-width="0.8" />
<line x1="70.20" y1="145.50" x2="70.20" y2="143.80" stroke="#555" stroke-width="0.8" />
<line x1="70.20" y1="182.30" x2="70.20" y2="181.45" stroke="#555" stroke-width="0.7" />
<line x1="70.20" y1="182.30" x2="70.20" y2="183.15" stroke="#555" stroke-width="0.7" />
<line x1="70.20" y1="221.20" x2="70.20" y2="219.90" stroke="#555" stroke-width="0.8" />
<line x1="75.30" y1="145.50" x2="75.30" y2="143.80" stroke="#555" stroke-width="0.8" />
<line x1="75.30" y1="182.30" x2="75.30" y2="181.45" stroke="#555" stroke-width="0.7" />
<line x1="75.30" y1="182.30" x2="75.30" y2="183.15" stroke="#555" stroke-width="0.7" />
<line x1="75.30" y1="221.20" x2="75.30" y2="219.90" stroke="#555" stroke-width="0.8" />
<line x1="80.40" y1="145.50" x2="80.40" y2="143.80" stroke="#555" stroke-width="0.8" />
<line x1="80.40" y1="182.30" x2="80.40" y2="181.45" stroke="#555" stroke-width="0.7" />
<line x1="80.40" y1="182.30" x2="80.40" y2="183.15" stroke="#555" stroke-width="0.7" />
<line x1="80.40" y1="221.20" x2="80.40" y2="219.90" stroke="#555" stroke-width="0.8" />
<line x1="85.50" y1="145.50" x2="85.50" y2="142.50" stroke="#111" stroke-width="0.8" />
<line x1="85.50" y1="182.30" x2="85.50" y2="180.80" stroke="#111" stroke-width="0.7" />
<line x1="85.50" y1="182.30" x2="85.50" y2="183.80" stroke="#111" stroke-width="0.7" />
<line x1="85.50" y1="221.20" x2="85.50" y2="218.80" stroke="#111" stroke-width="0.8" />
<line x1="90.60" y1="145.50" x2="90.60" y2="143.80" stroke="#555" stroke-width="0.8" />
<line x1="90.60" y1="182.30" x2="90.60" y2="181.45" stroke="#555" stroke-width="0.7" />
<line x1="90.60" y1="182.30" x2="90.60" y2="183.15" stroke="#555" stroke-width="0.7" />
<line x1="90.60" y1="221.20" x2="90.60" y2="219.90" stroke="#555" stroke-width="0.8" />
<line x1="95.70" y1="145.50" x2="95.70" y2="143.80" stroke="#555" stroke-width="0.8" />
<line x1="95.70" y1="182.30" x2="95.70" y2="181.45" stroke="#555" stroke-width="0.7" />
<line x1="95.70" y1="182.30" x2="95.70" y2="183.15" stroke="#555" stroke-width="0.7" />
<line x1="95.70" y1="221.20" x2="95.70" y2="219.90" stroke="#555" stroke-width="0.8" />
<line x1="100.80" y1="145.50" x2="100.80" y2="143.80" stroke="#555" stroke-width="0.8" />
<line x1="100.80" y1="182.30" x2="100.80" y2="181.45" stroke="#555" stroke-width="0.7" />
<line x1="100.80" y1="182.30" x2="100.80" y2="183.15" stroke="#555" stroke-width="0.7" />
<line x1="100.80" y1="221.20" x2="100.80" y2="219.90" stroke="#555" stroke-width="0.8" />
<line x1="105.90" y1="145.50" x2="105.90" y2="143.80" stroke="#555" stroke-width="0.8" />
<line x1="105.90" y1="182.30" x2="105.90" y2="181.45" stroke="#555" stroke-width="0.7" />
<line x1="105.90" y1="182.30" x2="105.90" y2="183.15" stroke="#555" stroke-width="0.7" />
<line x1="105.90" y1="221.20" x2="105.90" y2="219.90" stroke="#555" stroke-width="0.8" />
<line x1="111.00" y1="145.50" x2="111.00" y2="142.50" stroke="#111" stroke-width="0.8" />
<line x1="111.00" y1="182.30" x2="111.00" y2="180.80" stroke="#111" stroke-width="0.7" />
<line x1="111.00" y1="182.30" x2="111.00" y2="183.80" stroke="#111" stroke-width="0.7" />
<line x1="111.00" y1="221.20" x2="111.00" y2="218.80" stroke="#111" stroke-width="0.8" />
<line x1="116.10" y1="145.50" x2="116.10" y2="143.80" stroke="#555" stroke-width="0.8" />
<line x1="116.10" y1="182.30" x2="116.10" y2="181.45" stroke="#555" stroke-width="0.7" />
<line x1="116.10" y1="182.30" x2="116.10" y2="183.15" stroke="#555" stroke-width="0.7" />
<line x1="116.10" y1="221.20" x2="116.10" y2="219.90" stroke="#555" stroke-width="0.8" />
<line x1="121.20" y1="145.50" x2="121.20" y2="143.80" stroke="#555" stroke-width="0.8" />
<line x1="121.20" y1="182.30" x2="121.20" y2="181.45" stroke="#555" stroke-width="0.7" />
<line x1="121.20" y1="182.30" x2="121.20" y2="183.15" stroke="#555" stroke-width="0.7" />
<line x1="121.20" y1="221.20" x2="121.20" y2="219.90" stroke="#555" stroke-width="0.8" />
<line x1="126.30" y1="145.50" x2="126.30" y2="143.80" stroke="#555" stroke-width="0.8" />
<line x1="126.30" y1="182.30" x2="126.30" y2="181.45" stroke="#555" stroke-width="0.7" />
<line x1="126.30" y1="182.30" x2="126.30" y2="183.15" stroke="#555" stroke-width="0.7" />
<line x1="126.30" y1="221.20" x2="126.30" y2="219.90" stroke="#555" stroke-width="0.8" />
<line x1="131.40" y1="145.50" x2="131.40" y2="143.80" stroke="#555" stroke-width="0.8" />
<line x1="131.40" y1="182.30" x2="131.40" y2="181.45" stroke="#555" stroke-width="0.7" />
<line x1="131.40" y1="182.30" x2="131.40" y2="183.15" stroke="#555" stroke-width="0.7" />
<line x1="131.40" y1="221.20" x2="131.40" y2="219.90" stroke="#555" stroke-width="0.8" />
<line x1="136.50" y1="145.50" x2="136.50" y2="142.50" stroke="#111" stroke-width="0.8" />
<line x1="136.50" y1="182.30" x2="136.50" y2="180.80" stroke="#111" stroke-width="0.7" />
<line x1="136.50" y1="182.30" x2="136.50" y2="183.80" stroke="#111" stroke-width="0.7" />
<line x1="136.50" y1="221.20" x2="136.50" y2="218.80" stroke="#111" stroke-width="0.8" />
<line x1="141.60" y1="145.50" x2="141.60" y2="143.80" stroke="#555" stroke-width="0.8" />
<line x1="141.60" y1="182.30" x2="141.60" y2="181.45" stroke="#555" stroke-width="0.7" />
<line x1="141.60" y1="182.30" x2="141.60" y2="183.15" stroke="#555" stroke-width="0.7" />
<line x1="141.60" y1="221.20" x2="141.60" y2="219.90" stroke="#555" stroke-width="0.8" />
<line x1="146.70" y1="145.50" x2="146.70" y2="143.80" stroke="#555" stroke-width="0.8" />
<line x1="146.70" y1="182.30" x2="146.70" y2="181.45" stroke="#555" stroke-width="0.7" />
<line x1="146.70" y1="182.30" x2="146.70" y2="183.15" stroke="#555" stroke-width="0.7" />
<line x1="146.70" y1="221.20" x2="146.70" y2="219.90" stroke="#555" stroke-width="0.8" />
<line x1="151.80" y1="145.50" x2="151.80" y2="143.80" stroke="#555" stroke-width="0.8" />
<line x1="151.80" y1="182.30" x2="151.80" y2="181.45" stroke="#555" stroke-width="0.7" />
<line x1="151.80" y1="182.30" x2="151.80" y2="183.15" stroke="#555" stroke-width="0.7" />
<line x1="151.80" y1="221.20" x2="151.80" y2="219.90" stroke="#555" stroke-width="0.8" />
<line x1="156.90" y1="145.50" x2="156.90" y2="143.80" stroke="#555" stroke-width="0.8" />
<line x1="156.90" y1="182.30" x2="156.90" y2="181.45" stroke="#555" stroke-width="0.7" />
<line x1="156.90" y1="182.30" x2="156.90" y2="183.15" stroke="#555" stroke-width="0.7" />
<line x1="156.90" y1="221.20" x2="156.90" y2="219.90" stroke="#555" stroke-width="0.8" />
<line x1="162.00" y1="145.50" x2="162.00" y2="142.50" stroke="#111" stroke-width="0.8" />
<line x1="162.00" y1="182.30" x2="162.00" y2="180.80" stroke="#111" stroke-width="0.7" />
<line x1="162.00" y1="182.30" x2="162.00" y2="183.80" stroke="#111" stroke-width="0.7" />
<line x1="162.00" y1="221.20" x2="162.00" y2="218.80" stroke="#111" stroke-width="0.8" />
<line x1="167.10" y1="145.50" x2="167.10" y2="143.80" stroke="#555" stroke-width="0.8" />
<line x1="167.10" y1="182.30" x2="167.10" y2="181.45" stroke="#555" stroke-width="0.7" />
<line x1="167.10" y1="182.30" x2="167.10" y2="183.15" stroke="#555" stroke-width="0.7" />
<line x1="167.10" y1="221.20" x2="167.10" y2="219.90" stroke="#555" stroke-width="0.8" />
<line x1="172.20" y1="145.50" x2="172.20" y2="143.80" stroke="#555" stroke-width="0.8" />
<line x1="172.20" y1="182.30" x2="172.20" y2="181.45" stroke="#555" stroke-width="0.7" />
<line x1="172.20" y1="182.30" x2="172.20" y2="183.15" stroke="#555" stroke-width="0.7" />
<line x1="172.20" y1="221.20" x2="172.20" y2="219.90" stroke="#555" stroke-width="0.8" />
<line x1="177.30" y1="145.50" x2="177.30" y2="143.80" stroke="#555" stroke-width="0.8" />
<line x1="177.30" y1="182.30" x2="177.30" y2="181.45" stroke="#555" stroke-width="0.7" />
<line x1="177.30" y1="182.30" x2="177.30" y2="183.15" stroke="#555" stroke-width="0.7" />
<line x1="177.30" y1="221.20" x2="177.30" y2="219.90" stroke="#555" stroke-width="0.8" />
<line x1="182.40" y1="145.50" x2="182.40" y2="143.80" stroke="#555" stroke-width="0.8" />
<line x1="182.40" y1="182.30" x2="182.40" y2="181.45" stroke="#555" stroke-width="0.7" />
<line x1="182.40" y1="182.30" x2="182.40" y2="183.15" stroke="#555" stroke-width="0.7" />
<line x1="182.40" y1="221.20" x2="182.40" y2="219.90" stroke="#555" stroke-width="0.8" />
<line x1="200.07" y1="145.50" x2="200.07" y2="143.80" stroke="#555" stroke-width="0.8" />
<line x1="200.07" y1="182.30" x2="200.07" y2="181.45" stroke="#555" stroke-width="0.7" />
<line x1="200.07" y1="182.30" x2="200.07" y2="183.15" stroke="#555" stroke-width="0.7" />
<line x1="200.07" y1="221.20" x2="200.07" y2="219.90" stroke="#555" stroke-width="0.8" />
<line x1="209.82" y1="145.50" x2="209.82" y2="143.80" stroke="#555" stroke-width="0.8" />
<line x1="209.82" y1="182.30" x2="209.82" y2="181.45" stroke="#555" stroke-width="0.7" />
<line x1="209.82" y1="182.30" x2="209.82" y2="183.15" stroke="#555" stroke-width="0.7" />
<line x1="209.82" y1="221.20" x2="209.82" y2="219.90" stroke="#555" stroke-width="0.8" />
<line x1="217.78" y1="145.50" x2="217.78" y2="143.80" stroke="#555" stroke-width="0.8" />
<line x1="217.78" y1="182.30" x2="217.78" y2="181.45" stroke="#555" stroke-width="0.7" />
<line x1="217.78" y1="182.30" x2="217.78" y2="183.15" stroke="#555" stroke-width="0.7" />
<line x1="217.78" y1="221.20" x2="217.78" y2="219.90" stroke="#555" stroke-width="0.8" />
<line x1="224.52" y1="145.50" x2="224.52" y2="143.80" stroke="#555" stroke-width="0.8" />
<line x1="224.52" y1="182.30" x2="224.52" y2="181.45" stroke="#555" stroke-width="0.7" />
<line x1="224.52" y1="182.30" x2="224.52" y2="183.15" stroke="#555" stroke-width="0.7" />
<line x1="224.52" y1="221.20" x2="224.52" y2="219.90" stroke="#555" stroke-width="0.8" />
<line x1="230.35" y1="145.50" x2="230.35" y2="143.80" stroke="#555" stroke-width="0.8" />
<line x1="230.35" y1="182.30" x2="230.35" y2="181.45" stroke="#555" stroke-width="0.7" />
<line x1="230.35" y1="182.30" x2="230.35" y2="183.15" stroke="#555" stroke-width="0.7" />
<line x1="230.35" y1="221.20" x2="230.35" y2="219.90" stroke="#555" stroke-width="0.8" />
<line x1="235.50" y1="145.50" x2="235.50" y2="143.80" stroke="#555" stroke-width="0.8" />
<line x1="235.50" y1="182.30" x2="235.50" y2="181.45" stroke="#555" stroke-width="0.7" />
<line x1="235.50" y1="182.30" x2="235.50" y2="183.15" stroke="#555" stroke-width="0.7" />
<line x1="235.50" y1="221.20" x2="235.50" y2="219.90" stroke="#555" stroke-width="0.8" />
<line x1="240.10" y1="145.50" x2="240.10" y2="142.50" stroke="#111" stroke-width="0.8" />
<line x1="240.10" y1="182.30" x2="240.10" y2="180.80" stroke="#111" stroke-width="0.7" />
<line x1="240.10" y1="182.30" x2="240.10" y2="183.80" stroke="#111" stroke-width="0.7" />
<line x1="240.10" y1="221.20" x2="240.10" y2="218.80" stroke="#111" stroke-width="0.8" />
<line x1="270.39" y1="145.50" x2="270.39" y2="143.80" stroke="#555" stroke-width="0.8" />
<line x1="270.39" y1="182.30" x2="270.39" y2="181.45" stroke="#555" stroke-width="0.7" />
<line x1="270.39" y1="182.30" x2="270.39" y2="183.15" stroke="#555" stroke-width="0.7" />
<line x1="270.39" y1="221.20" x2="270.39" y2="219.90" stroke="#555" stroke-width="0.8" />
<line x1="288.10" y1="145.50" x2="288.10" y2="143.80" stroke="#555" stroke-width="0.8" />
<line x1="288.10" y1="182.30" x2="288.10" y2="181.45" stroke="#555" stroke-width="0.7" />
<line x1="288.10" y1="182.30" x2="288.10" y2="183.15" stroke="#555" stroke-width="0.7" />
<line x1="288.10" y1="221.20" x2="288.10" y2="219.90" stroke="#555" stroke-width="0.8" />
<line x1="300.67" y1="145.50" x2="300.67" y2="143.80" stroke="#555" stroke-width="0.8" />
<line x1="300.67" y1="182.30" x2="300.67" y2="181.45" stroke="#555" stroke-width="0.7" />
<line x1="300.67" y1="182.30" x2="300.67" y2="183.15" stroke="#555" stroke-width="0.7" />
<line x1="300.67" y1="221.20" x2="300.67" y2="219.90" stroke="#555" stroke-width="0.8" />
<line x1="310.42" y1="145.50" x2="310.42" y2="143.80" stroke="#555" stroke-width="0.8" />
<line x1="310.42" y1="182.30" x2="310.42" y2="181.45" stroke="#555" stroke-width="0.7" />
<line x1="310.42" y1="182.30" x2="310.42" y2="183.15" stroke="#555" stroke-width="0.7" />
<line x1="310.42" y1="221.20" x2="310.42" y2="219.90" stroke="#555" stroke-width="0.8" />
<line x1="318.38" y1="145.50" x2="318.38" y2="143.80" stroke="#555" stroke-width="0.8" />
<line x1="318.38" y1="182.30" x2="318.38" y2="181.45" stroke="#555" stroke-width="0.7" />
<line x1="318.38" y1="182.30" x2="318.38" y2="183.15" stroke="#555" stroke-width="0.7" />
<line x1="318.38" y1="221.20" x2="318.38" y2="219.90" stroke="#555" stroke-width="0.8" />
<line x1="325.12" y1="145.50" x2="325.12" y2="143.80" stroke="#555" stroke-width="0.8" />
<line x1="325.12" y1="182.30" x2="325.12" y2="181.45" stroke="#555" stroke-width="0.7" />
<line x1="325.12" y1="182.30" x2="325.12" y2="183.15" stroke="#555" stroke-width="0.7" />
<line x1="325.12" y1="221.20" x2="325.12" y2="219.90" stroke="#555" stroke-width="0.8" />
<line x1="330.95" y1="145.50" x2="330.95" y2="143.80" stroke="#555" stroke-width="0.8" />
<line x1="330.95" y1="182.30" x2="330.95" y2="181.45" stroke="#555" stroke-width="0.7" />
<line x1="330.95" y1="182.30" x2="330.95" y2="183.15" stroke="#555" stroke-width="0.7" />
<line x1="330.95" y1="221.20" x2="330.95" y2="219.90" stroke="#555" stroke-width="0.8" />
<line x1="200.07" y1="6.00" x2="200.07" y2="8.20" stroke="#333" stroke-width="0.8" />
<line x1="209.82" y1="6.00" x2="209.82" y2="8.20" stroke="#333" stroke-width="0.8" />
<line x1="217.78" y1="6.00" x2="217.78" y2="8.20" stroke="#333" stroke-width="0.8" />
<line x1="224.52" y1="6.00" x2="224.52" y2="8.20" stroke="#333" stroke-width="0.8" />
<line x1="230.35" y1="6.00" x2="230.35" y2="8.20" stroke="#333" stroke-width="0.8" />
<line x1="235.50" y1="6.00" x2="235.50" y2="8.20" stroke="#333" stroke-width="0.8" />
<line x1="240.10" y1="6.00" x2="240.10" y2="9.20" stroke="#111" stroke-width="0.8" />
<line x1="270.39" y1="6.00" x2="270.39" y2="8.20" stroke="#333" stroke-width="0.8" />
<line x1="288.10" y1="6.00" x2="288.10" y2="8.20" stroke="#333" stroke-width="0.8" />
<line x1="300.67" y1="6.00" x2="300.67" y2="8.20" stroke="#333" stroke-width="0.8" />
<line x1="310.42" y1="6.00" x2="310.42" y2="8.20" stroke="#333" stroke-width="0.8" />
<line x1="318.38" y1="6.00" x2="318.38" y2="8.20" stroke="#333" stroke-width="0.8" />
<line x1="325.12" y1="6.00" x2="325.12" y2="8.20" stroke="#333" stroke-width="0.8" />
<line x1="330.95" y1="6.00" x2="330.95" y2="8.20" stroke="#333" stroke-width="0.8" />
<line x1="34.50" y1="153.50" x2="40.00" y2="153.50" stroke="#111" stroke-width="1.0" />
<line x1="34.50" y1="164.50" x2="40.00" y2="164.50" stroke="#111" stroke-width="1.0" />
<line x1="34.50" y1="174.50" x2="40.00" y2="174.50" stroke="#111" stroke-width="1.0" />
<line x1="34.50" y1="188.50" x2="40.00" y2="188.50" stroke="#111" stroke-width="1.0" />
<line x1="34.50" y1="201.50" x2="40.00" y2="201.50" stroke="#111" stroke-width="1.0" />
<line x1="34.50" y1="215.50" x2="40.00" y2="215.50" stroke="#111" stroke-width="1.0" />
<line x1="182.50" y1="153.50" x2="187.50" y2="153.50" stroke="#111" stroke-width="1.0" />
<line x1="182.50" y1="174.50" x2="187.50" y2="174.50" stroke="#111" stroke-width="1.0" />
<line x1="182.50" y1="188.50" x2="187.50" y2="188.50" stroke="#111" stroke-width="1.0" />
<line x1="182.50" y1="215.50" x2="187.50" y2="215.50" stroke="#111" stroke-width="1.0" />
<line x1="34.50" y1="6.00" x2="335.50" y2="6.00" stroke="#8a8a8a" stroke-width="1.5" />
<line x1="34.50" y1="145.70" x2="335.50" y2="145.70" stroke="#777" stroke-width="1.4" />
<line x1="34.50" y1="182.30" x2="335.50" y2="182.30" stroke="#333" stroke-width="1.2" />
<line x1="34.50" y1="221.20" x2="335.50" y2="221.20" stroke="#222" stroke-width="1.1" />
<line x1="34.50" y1="5.50" x2="34.50" y2="221.70" stroke="#222" stroke-width="1.1" />
<line x1="335.50" y1="5.50" x2="335.50" y2="221.70" stroke="#222" stroke-width="1.1" />
<line x1="187.50" y1="6.00" x2="187.50" y2="221.20" stroke="#222" stroke-width="1.1" />
<path d="M34.50,221.70 L34.50,201.60 L44.70,201.60 L44.70,197.10 L54.90,197.10 L54.90,201.60 L65.10,201.60 L65.10,183.10 L75.30,183.10 L75.30,201.80 L85.50,201.80 L85.50,205.30 L95.70,205.30 L95.70,193.30 L105.90,193.30 L105.90,201.60 L116.10,201.60 L116.10,192.50 L126.30,192.50 L126.30,209.50 L136.50,209.50 L136.50,199.40 L149.25,199.40 L149.25,217.50 L162.00,217.50 L162.00,196.60 L174.75,196.60 L174.75,203.60 L187.50,203.60 L187.50,221.70" fill="none" stroke="#1c6bd3" stroke-width="1.3" clip-path="url(#clL)"/>
<path d="M187.50,221.70 L187.50,205.50 L191.66,205.50 L191.66,198.10 L195.47,198.10 L195.47,200.20 L198.96,200.20 L198.96,203.50 L202.20,203.50 L202.20,207.10 L205.21,207.10 L205.21,207.10 L208.03,207.10 L208.03,191.60 L210.68,191.60 L210.68,208.00 L213.18,208.00 L213.18,223.00 L215.54,223.00 L215.54,196.10 L218.51,196.10 L218.51,209.30 L221.28,209.30 L221.28,203.50 L224.52,203.50 L224.52,206.00 L227.53,206.00 L227.53,207.10 L230.35,207.10 L230.35,210.40 L233.00,210.40 L233.00,208.20 L237.86,208.20 L237.86,198.60 L242.23,198.60 L242.23,210.70 L249.85,210.70 L249.85,212.50 L257.82,212.50 L257.82,206.30 L264.55,206.30 L264.55,211.20 L270.39,211.20 L270.39,208.80 L280.13,208.80 L280.13,211.60 L288.10,211.60 L288.10,203.10 L294.83,203.10 L294.83,200.30 L300.67,200.30 L300.67,204.90 L307.71,204.90 L307.71,198.50 L314.58,198.50 L314.58,201.80 L321.88,201.80 L321.88,203.10 L336.10,203.10 L336.10,221.70" fill="none" stroke="#1c6bd3" stroke-width="1.3" clip-path="url(#clL)"/>
<text transform="translate(32.60,131.20) scale(0.92,1)" font-size="8.7" text-anchor="end" >0.01</text>
<text transform="translate(32.60,113.70) scale(0.92,1)" font-size="8.7" text-anchor="end" >0.02</text>
<text transform="translate(32.60,96.20) scale(0.92,1)" font-size="8.7" text-anchor="end" >0.03</text>
<text transform="translate(32.60,78.70) scale(0.92,1)" font-size="8.7" text-anchor="end" >0.04</text>
<text transform="translate(32.60,61.20) scale(0.92,1)" font-size="8.7" text-anchor="end" >0.05</text>
<text transform="translate(32.60,43.70) scale(0.92,1)" font-size="8.7" text-anchor="end" >0.06</text>
<text transform="translate(32.60,26.20) scale(0.92,1)" font-size="8.7" text-anchor="end" >0.07</text>
<text transform="translate(32.60,8.70) scale(0.92,1)" font-size="8.7" text-anchor="end" >0.08</text>
<text transform="translate(33.20,156.50) scale(0.92,1)" font-size="8.7" text-anchor="end" >1.02</text>
<text transform="translate(33.20,167.10) scale(0.92,1)" font-size="8.7" text-anchor="end" >1</text>
<text transform="translate(33.20,177.70) scale(0.92,1)" font-size="8.7" text-anchor="end" >0.98</text>
<text transform="translate(33.20,191.20) scale(0.92,1)" font-size="8.7" text-anchor="end" >2</text>
<text transform="translate(33.20,204.70) scale(0.92,1)" font-size="8.7" text-anchor="end" >0</text>
<text transform="translate(33.20,218.20) scale(0.92,1)" font-size="8.7" text-anchor="end" >&#8722;2</text>
<text transform="translate(34.40,229.10) scale(0.92,1)" font-size="8.7" text-anchor="middle" >0</text>
<text transform="translate(59.80,229.10) scale(0.92,1)" font-size="8.7" text-anchor="middle" >5</text>
<text transform="translate(85.60,229.10) scale(0.92,1)" font-size="8.7" text-anchor="middle" >10</text>
<text transform="translate(111.00,229.10) scale(0.92,1)" font-size="8.7" text-anchor="middle" >15</text>
<text transform="translate(136.40,229.10) scale(0.92,1)" font-size="8.7" text-anchor="middle" >20</text>
<text transform="translate(162.00,229.10) scale(0.92,1)" font-size="8.7" text-anchor="middle" >25</text>
<text transform="translate(187.40,229.10) scale(0.92,1)" font-size="8.7" text-anchor="middle" >30</text>
<text transform="translate(242.80,229.10) scale(0.92,1)" font-size="8.7" text-anchor="middle" >100</text>
<text transform="translate(292.90,229.10) scale(0.92,1)" font-size="8.7" text-anchor="middle" >300</text>
<text transform="translate(333.20,229.10) scale(0.92,1)" font-size="8.7" text-anchor="start" >9</text>
<text x="334.8" y="238.6" font-size="9.2" text-anchor="end">p<tspan font-size="6.4" dy="2">T</tspan><tspan dy="-2">(ll) [GeV]</tspan></text>
<g transform="translate(9.1,80.4) rotate(-90) scale(0.93,1)"><text x="0" y="0" font-size="9.5">1/&#963; d&#963;/dp</text><text x="42.90" y="3.9" font-size="5.8">T</text><text x="42.58" y="-4.4" font-size="5.8">ll</text><text x="51.18" y="0" font-size="9.5">[</text><text x="55.81" y="0" font-size="9.5">GeV</text><text x="75.27" y="-3.7" font-size="6.2">-1</text><text x="78.71" y="0" font-size="9.5">]</text></g>
<text transform="translate(13.4,167.3) rotate(-90)" font-size="9.3">Ratio</text>
<text transform="translate(13.4,212.8) rotate(-90)" font-size="9.3">Pull [&#963;]</text>
<line x1="41.70" y1="3.60" x2="87.50" y2="3.60" stroke="#999" stroke-width="0.9" />
<line x1="128.40" y1="3.60" x2="184.00" y2="3.60" stroke="#999" stroke-width="0.9" />
<text transform="translate(106.50,5.30) scale(1.0,1)" font-size="5.55" text-anchor="middle" fill="#333">Linear Scale</text>
<line x1="190.80" y1="3.60" x2="239.60" y2="3.60" stroke="#999" stroke-width="0.9" />
<line x1="290.30" y1="3.60" x2="335.50" y2="3.60" stroke="#999" stroke-width="0.9" />
<text transform="translate(265.50,5.30) scale(1.0,1)" font-size="5.55" text-anchor="middle" fill="#333">Logarithmic Scale</text>
<text transform="translate(49.30,18.50) scale(1.0,1)" font-size="10.4" text-anchor="start" font-weight="bold" font-style="italic">ATLAS</text>
<path d="M49.60,27.70 L50.50,27.20 L51.60,31.70 L52.80,22.90 L57.50,22.90" fill="none" stroke="#111" stroke-width="0.9"/>
<text x="52.90" y="31.30" font-size="9.3">s=13 TeV, 36.1 fb<tspan font-size="6" dy="-3.6">-1</tspan></text>
<rect x="258.10" y="10.80" width="13.50" height="11.90" fill="#97c8fb" />
<line x1="258.10" y1="16.50" x2="271.60" y2="16.50" stroke="#1c6bd3" stroke-width="1.4" />
<line x1="258.10" y1="33.70" x2="271.60" y2="33.70" stroke="#ffc800" stroke-width="1.0" />
<polygon points="262.55,35.30 267.15,35.30 264.85,31.50" fill="#ffc800"/>
<line x1="258.10" y1="50.90" x2="271.60" y2="50.90" stroke="#ff3a00" stroke-width="1.0" />
<polygon points="262.55,49.30 267.15,49.30 264.85,53.10" fill="#ff3a00"/>
<text x="274.10" y="19.80" font-size="9.2">Z/&#947;</text>
<text x="287.00" y="18.80" font-size="8">*</text>
<path d="M290.70,17.60 L297.90,17.60 M295.90,16.00 L298.00,17.60 L295.90,19.20" fill="none" stroke="#222" stroke-width="0.75"/>
<text x="298.70" y="19.80" font-size="9.2">ll</text>
<text x="274.10" y="37.00" font-size="9.2">Z/&#947;</text>
<text x="287.00" y="36.00" font-size="8">*</text>
<path d="M290.70,34.80 L297.90,34.80 M295.90,33.20 L298.00,34.80 L295.90,36.40" fill="none" stroke="#222" stroke-width="0.75"/>
<text x="298.70" y="37.00" font-size="9.2">ee</text>
<text x="274.10" y="54.20" font-size="9.2">Z/&#947;</text>
<text x="287.00" y="53.20" font-size="8">*</text>
<path d="M290.70,52.00 L297.90,52.00 M295.90,50.40 L298.00,52.00 L295.90,53.60" fill="none" stroke="#222" stroke-width="0.75"/>
<text x="298.70" y="54.20" font-size="9.2">&#956;&#956;</text>
<line x1="389.90" y1="188.50" x2="684.60" y2="188.50" stroke="#222" stroke-width="1.0" stroke-dasharray="1 1.22"/>
<line x1="389.90" y1="215.50" x2="684.60" y2="215.50" stroke="#222" stroke-width="1.0" stroke-dasharray="1 1.22"/>
<path d="M389.90,201.6 L389.90,201.60 L414.63,201.60 L414.63,195.50 L438.89,195.50 L438.89,213.30 L453.08,213.30 L453.08,204.30 L463.15,204.30 L463.15,200.80 L470.96,200.80 L470.96,196.60 L477.35,196.60 L477.35,192.50 L483.97,192.50 L483.97,198.50 L489.54,198.50 L489.54,208.20 L494.34,208.20 L494.34,186.10 L499.35,186.10 L499.35,203.10 L503.73,203.10 L503.73,203.10 L507.62,203.10 L507.62,201.80 L511.68,201.80 L511.68,188.90 L515.80,188.90 L515.80,191.40 L519.92,191.40 L519.92,197.90 L524.00,197.90 L524.00,197.90 L527.99,197.90 L527.99,207.30 L531.89,207.30 L531.89,193.50 L535.94,193.50 L535.94,204.90 L540.31,204.90 L540.31,203.60 L544.83,203.60 L544.83,200.80 L549.58,200.80 L549.58,193.50 L554.74,193.50 L554.74,211.90 L560.48,211.90 L560.48,204.00 L567.13,204.00 L567.13,203.10 L575.03,203.10 L575.03,200.70 L585.28,200.70 L585.28,214.10 L595.16,214.10 L595.16,207.70 L604.91,207.70 L604.91,209.20 L612.88,209.20 L612.88,210.40 L622.00,210.40 L622.00,209.00 L631.22,209.00 L631.22,207.30 L640.28,207.30 L640.28,204.90 L649.45,204.90 L649.45,211.00 L664.24,211.00 L664.24,203.20 L688.50,203.20 L688.50,201.6 Z" fill="#97c8fb" clip-path="url(#clR)"/>
<line x1="389.90" y1="201.60" x2="684.60" y2="201.60" stroke="#b9a6dc" stroke-width="0.7" />
<line x1="389.90" y1="153.50" x2="684.60" y2="153.50" stroke="#222" stroke-width="1.0" stroke-dasharray="1 1.22"/>
<line x1="389.90" y1="174.50" x2="684.60" y2="174.50" stroke="#222" stroke-width="1.0" stroke-dasharray="1 1.22"/>
<path d="M389.90,162.80 L414.63,162.80 L414.63,162.80 L438.89,162.80 L438.89,162.80 L453.08,162.80 L453.08,162.80 L463.15,162.80 L463.15,162.80 L470.96,162.80 L470.96,162.80 L477.35,162.80 L477.35,162.80 L483.97,162.80 L483.97,162.80 L489.54,162.80 L489.54,162.80 L494.34,162.80 L494.34,162.80 L499.35,162.80 L499.35,162.80 L503.73,162.80 L503.73,162.80 L507.62,162.80 L507.62,162.80 L511.68,162.80 L511.68,162.80 L515.80,162.80 L515.80,162.80 L519.92,162.80 L519.92,162.80 L524.00,162.80 L524.00,162.80 L527.99,162.80 L527.99,162.80 L531.89,162.80 L531.89,162.80 L535.94,162.80 L535.94,162.80 L540.31,162.80 L540.31,162.80 L544.83,162.80 L544.83,162.80 L549.58,162.80 L549.58,162.80 L554.74,162.80 L554.74,162.80 L560.48,162.80 L560.48,162.80 L567.13,162.80 L567.13,162.80 L575.03,162.80 L575.03,162.80 L585.28,162.80 L585.28,162.60 L595.16,162.60 L595.16,162.20 L604.91,162.20 L604.91,161.60 L612.88,161.60 L612.88,161.00 L622.00,161.00 L622.00,160.40 L631.22,160.40 L631.22,159.80 L640.28,159.80 L640.28,159.20 L649.45,159.20 L649.45,158.90 L664.24,158.90 L664.24,160.20 L688.50,160.20 L688.50,167.80 L664.24,167.80 L664.24,169.10 L649.45,169.10 L649.45,168.80 L640.28,168.80 L640.28,168.20 L631.22,168.20 L631.22,167.60 L622.00,167.60 L622.00,167.00 L612.88,167.00 L612.88,166.40 L604.91,166.40 L604.91,165.80 L595.16,165.80 L595.16,165.40 L585.28,165.40 L585.28,165.20 L575.03,165.20 L575.03,165.20 L567.13,165.20 L567.13,165.20 L560.48,165.20 L560.48,165.20 L554.74,165.20 L554.74,165.20 L549.58,165.20 L549.58,165.20 L544.83,165.20 L544.83,165.20 L540.31,165.20 L540.31,165.20 L535.94,165.20 L535.94,165.20 L531.89,165.20 L531.89,165.20 L527.99,165.20 L527.99,165.20 L524.00,165.20 L524.00,165.20 L519.92,165.20 L519.92,165.20 L515.80,165.20 L515.80,165.20 L511.68,165.20 L511.68,165.20 L507.62,165.20 L507.62,165.20 L503.73,165.20 L503.73,165.20 L499.35,165.20 L499.35,165.20 L494.34,165.20 L494.34,165.20 L489.54,165.20 L489.54,165.20 L483.97,165.20 L483.97,165.20 L477.35,165.20 L477.35,165.20 L470.96,165.20 L470.96,165.20 L463.15,165.20 L463.15,165.20 L453.08,165.20 L453.08,165.20 L438.89,165.20 L438.89,165.20 L414.63,165.20 L414.63,165.20 L389.90,165.20 Z" fill="#97c8fb" clip-path="url(#clRr)"/>
<line x1="389.90" y1="164.00" x2="684.60" y2="164.00" stroke="#1c6bd3" stroke-width="0.7" stroke-opacity="0.5"/>
<line x1="600.00" y1="164.00" x2="684.60" y2="164.00" stroke="#1c6bd3" stroke-width="1.4" />
<g clip-path="url(#clRr)">
<line x1="389.90" y1="165.10" x2="414.63" y2="165.10" stroke="#ffc800" stroke-width="0.7" stroke-opacity="0.55"/>
<line x1="389.90" y1="163.60" x2="414.63" y2="163.60" stroke="#ff3a00" stroke-width="0.7" stroke-opacity="0.6"/>
<line x1="414.63" y1="165.10" x2="438.89" y2="165.10" stroke="#ffc800" stroke-width="0.7" stroke-opacity="0.55"/>
<line x1="414.63" y1="163.60" x2="438.89" y2="163.60" stroke="#ff3a00" stroke-width="0.7" stroke-opacity="0.6"/>
<line x1="438.89" y1="161.80" x2="453.08" y2="161.80" stroke="#ffc800" stroke-width="0.7" stroke-opacity="0.55"/>
<line x1="438.89" y1="165.00" x2="453.08" y2="165.00" stroke="#ff3a00" stroke-width="0.7" stroke-opacity="0.6"/>
<line x1="453.08" y1="164.60" x2="463.15" y2="164.60" stroke="#ffc800" stroke-width="0.7" stroke-opacity="0.55"/>
<line x1="453.08" y1="163.60" x2="463.15" y2="163.60" stroke="#ff3a00" stroke-width="0.7" stroke-opacity="0.6"/>
<line x1="463.15" y1="165.10" x2="470.96" y2="165.10" stroke="#ffc800" stroke-width="0.7" stroke-opacity="0.55"/>
<line x1="463.15" y1="163.60" x2="470.96" y2="163.60" stroke="#ff3a00" stroke-width="0.7" stroke-opacity="0.6"/>
<line x1="470.96" y1="165.60" x2="477.35" y2="165.60" stroke="#ffc800" stroke-width="0.7" stroke-opacity="0.55"/>
<line x1="470.96" y1="163.60" x2="477.35" y2="163.60" stroke="#ff3a00" stroke-width="0.7" stroke-opacity="0.6"/>
<line x1="477.35" y1="165.60" x2="483.97" y2="165.60" stroke="#ffc800" stroke-width="0.7" stroke-opacity="0.55"/>
<line x1="477.35" y1="163.60" x2="483.97" y2="163.60" stroke="#ff3a00" stroke-width="0.7" stroke-opacity="0.6"/>
<line x1="483.97" y1="165.10" x2="489.54" y2="165.10" stroke="#ffc800" stroke-width="0.7" stroke-opacity="0.55"/>
<line x1="483.97" y1="163.60" x2="489.54" y2="163.60" stroke="#ff3a00" stroke-width="0.7" stroke-opacity="0.6"/>
<line x1="489.54" y1="161.80" x2="494.34" y2="161.80" stroke="#ffc800" stroke-width="0.7" stroke-opacity="0.55"/>
<line x1="489.54" y1="164.00" x2="494.34" y2="164.00" stroke="#ff3a00" stroke-width="0.7" stroke-opacity="0.6"/>
<line x1="494.34" y1="166.10" x2="499.35" y2="166.10" stroke="#ffc800" stroke-width="0.7" stroke-opacity="0.55"/>
<line x1="494.34" y1="163.10" x2="499.35" y2="163.10" stroke="#ff3a00" stroke-width="0.7" stroke-opacity="0.6"/>
<line x1="499.35" y1="165.60" x2="503.73" y2="165.60" stroke="#ffc800" stroke-width="0.7" stroke-opacity="0.55"/>
<line x1="499.35" y1="163.60" x2="503.73" y2="163.60" stroke="#ff3a00" stroke-width="0.7" stroke-opacity="0.6"/>
<line x1="503.73" y1="165.60" x2="507.62" y2="165.60" stroke="#ffc800" stroke-width="0.7" stroke-opacity="0.55"/>
<line x1="503.73" y1="163.60" x2="507.62" y2="163.60" stroke="#ff3a00" stroke-width="0.7" stroke-opacity="0.6"/>
<line x1="507.62" y1="165.10" x2="511.68" y2="165.10" stroke="#ffc800" stroke-width="0.7" stroke-opacity="0.55"/>
<line x1="507.62" y1="163.60" x2="511.68" y2="163.60" stroke="#ff3a00" stroke-width="0.7" stroke-opacity="0.6"/>
<line x1="511.68" y1="165.60" x2="515.80" y2="165.60" stroke="#ffc800" stroke-width="0.7" stroke-opacity="0.55"/>
<line x1="511.68" y1="163.60" x2="515.80" y2="163.60" stroke="#ff3a00" stroke-width="0.7" stroke-opacity="0.6"/>
<line x1="515.80" y1="165.60" x2="519.92" y2="165.60" stroke="#ffc800" stroke-width="0.7" stroke-opacity="0.55"/>
<line x1="515.80" y1="163.60" x2="519.92" y2="163.60" stroke="#ff3a00" stroke-width="0.7" stroke-opacity="0.6"/>
<line x1="519.92" y1="165.10" x2="524.00" y2="165.10" stroke="#ffc800" stroke-width="0.7" stroke-opacity="0.55"/>
<line x1="519.92" y1="163.60" x2="524.00" y2="163.60" stroke="#ff3a00" stroke-width="0.7" stroke-opacity="0.6"/>
<line x1="524.00" y1="165.60" x2="527.99" y2="165.60" stroke="#ffc800" stroke-width="0.7" stroke-opacity="0.55"/>
<line x1="524.00" y1="163.60" x2="527.99" y2="163.60" stroke="#ff3a00" stroke-width="0.7" stroke-opacity="0.6"/>
<line x1="527.99" y1="165.10" x2="531.89" y2="165.10" stroke="#ffc800" stroke-width="0.7" stroke-opacity="0.55"/>
<line x1="527.99" y1="163.60" x2="531.89" y2="163.60" stroke="#ff3a00" stroke-width="0.7" stroke-opacity="0.6"/>
<line x1="531.89" y1="164.60" x2="535.94" y2="164.60" stroke="#ffc800" stroke-width="0.7" stroke-opacity="0.55"/>
<line x1="531.89" y1="163.60" x2="535.94" y2="163.60" stroke="#ff3a00" stroke-width="0.7" stroke-opacity="0.6"/>
<line x1="535.94" y1="165.10" x2="540.31" y2="165.10" stroke="#ffc800" stroke-width="0.7" stroke-opacity="0.55"/>
<line x1="535.94" y1="163.60" x2="540.31" y2="163.60" stroke="#ff3a00" stroke-width="0.7" stroke-opacity="0.6"/>
<line x1="540.31" y1="165.30" x2="544.83" y2="165.30" stroke="#ffc800" stroke-width="0.7" stroke-opacity="0.55"/>
<line x1="540.31" y1="164.10" x2="544.83" y2="164.10" stroke="#ff3a00" stroke-width="0.7" stroke-opacity="0.6"/>
<line x1="544.83" y1="165.70" x2="549.58" y2="165.70" stroke="#ffc800" stroke-width="0.7" stroke-opacity="0.55"/>
<line x1="544.83" y1="164.10" x2="549.58" y2="164.10" stroke="#ff3a00" stroke-width="0.7" stroke-opacity="0.6"/>
<line x1="549.58" y1="166.10" x2="554.74" y2="166.10" stroke="#ffc800" stroke-width="0.7" stroke-opacity="0.55"/>
<line x1="549.58" y1="163.60" x2="554.74" y2="163.60" stroke="#ff3a00" stroke-width="0.7" stroke-opacity="0.6"/>
<line x1="554.74" y1="165.10" x2="560.48" y2="165.10" stroke="#ffc800" stroke-width="0.7" stroke-opacity="0.55"/>
<line x1="554.74" y1="164.10" x2="560.48" y2="164.10" stroke="#ff3a00" stroke-width="0.7" stroke-opacity="0.6"/>
<line x1="560.48" y1="165.10" x2="567.13" y2="165.10" stroke="#ffc800" stroke-width="0.7" stroke-opacity="0.55"/>
<line x1="560.48" y1="164.10" x2="567.13" y2="164.10" stroke="#ff3a00" stroke-width="0.7" stroke-opacity="0.6"/>
<line x1="567.13" y1="165.40" x2="575.03" y2="165.40" stroke="#ffc800" stroke-width="0.7" stroke-opacity="0.55"/>
<line x1="567.13" y1="164.10" x2="575.03" y2="164.10" stroke="#ff3a00" stroke-width="0.7" stroke-opacity="0.6"/>
<line x1="575.03" y1="165.70" x2="585.28" y2="165.70" stroke="#ffc800" stroke-width="0.7" stroke-opacity="0.55"/>
<line x1="575.03" y1="164.10" x2="585.28" y2="164.10" stroke="#ff3a00" stroke-width="0.7" stroke-opacity="0.6"/>
<line x1="585.28" y1="161.10" x2="595.16" y2="161.10" stroke="#ffc800" stroke-width="0.7" stroke-opacity="0.55"/>
<line x1="585.28" y1="164.70" x2="595.16" y2="164.70" stroke="#ff3a00" stroke-width="0.7" stroke-opacity="0.6"/>
<line x1="595.16" y1="160.40" x2="604.91" y2="160.40" stroke="#ffc800" stroke-width="0.7" stroke-opacity="0.55"/>
<line x1="595.16" y1="164.20" x2="604.91" y2="164.20" stroke="#ff3a00" stroke-width="0.7" stroke-opacity="0.6"/>
<line x1="604.91" y1="161.10" x2="612.88" y2="161.10" stroke="#ffc800" stroke-width="0.7" stroke-opacity="0.55"/>
<line x1="604.91" y1="164.70" x2="612.88" y2="164.70" stroke="#ff3a00" stroke-width="0.7" stroke-opacity="0.6"/>
<line x1="612.88" y1="159.50" x2="622.00" y2="159.50" stroke="#ffc800" stroke-width="0.7" stroke-opacity="0.55"/>
<line x1="612.88" y1="164.70" x2="622.00" y2="164.70" stroke="#ff3a00" stroke-width="0.7" stroke-opacity="0.6"/>
<line x1="622.00" y1="158.00" x2="631.22" y2="158.00" stroke="#ffc800" stroke-width="0.7" stroke-opacity="0.55"/>
<line x1="622.00" y1="164.20" x2="631.22" y2="164.20" stroke="#ff3a00" stroke-width="0.7" stroke-opacity="0.6"/>
<line x1="631.22" y1="157.00" x2="640.28" y2="157.00" stroke="#ffc800" stroke-width="0.7" stroke-opacity="0.55"/>
<line x1="631.22" y1="163.60" x2="640.28" y2="163.60" stroke="#ff3a00" stroke-width="0.7" stroke-opacity="0.6"/>
<line x1="640.28" y1="158.00" x2="649.45" y2="158.00" stroke="#ffc800" stroke-width="0.7" stroke-opacity="0.55"/>
<line x1="640.28" y1="162.60" x2="649.45" y2="162.60" stroke="#ff3a00" stroke-width="0.7" stroke-opacity="0.6"/>
<line x1="649.45" y1="154.60" x2="664.24" y2="154.60" stroke="#ffc800" stroke-width="0.7" stroke-opacity="0.55"/>
<line x1="649.45" y1="166.30" x2="664.24" y2="166.30" stroke="#ff3a00" stroke-width="0.7" stroke-opacity="0.6"/>
<line x1="664.24" y1="146.10" x2="688.50" y2="146.10" stroke="#ffc800" stroke-width="0.7" stroke-opacity="0.55"/>
<line x1="664.24" y1="161.60" x2="688.50" y2="161.60" stroke="#ff3a00" stroke-width="0.7" stroke-opacity="0.6"/>
<line x1="590.57" y1="159.60" x2="590.57" y2="162.60" stroke="#ffc800" stroke-width="1.0" stroke-opacity="0.7"/>
<line x1="590.57" y1="163.20" x2="590.57" y2="166.20" stroke="#ff3a00" stroke-width="1.0" stroke-opacity="0.5"/>
<line x1="600.37" y1="158.40" x2="600.37" y2="162.40" stroke="#ffc800" stroke-width="1.0" stroke-opacity="0.7"/>
<line x1="600.37" y1="162.20" x2="600.37" y2="166.20" stroke="#ff3a00" stroke-width="1.0" stroke-opacity="0.5"/>
<line x1="609.12" y1="158.60" x2="609.12" y2="163.60" stroke="#ffc800" stroke-width="1.0" stroke-opacity="0.7"/>
<line x1="609.12" y1="162.20" x2="609.12" y2="167.20" stroke="#ff3a00" stroke-width="1.0" stroke-opacity="0.5"/>
<line x1="617.74" y1="156.50" x2="617.74" y2="162.50" stroke="#ffc800" stroke-width="1.0" stroke-opacity="0.7"/>
<line x1="617.74" y1="161.70" x2="617.74" y2="167.70" stroke="#ff3a00" stroke-width="1.0" stroke-opacity="0.5"/>
<line x1="626.91" y1="153.00" x2="626.91" y2="163.00" stroke="#ffc800" stroke-width="1.0" stroke-opacity="0.7"/>
<line x1="626.91" y1="160.70" x2="626.91" y2="167.70" stroke="#ff3a00" stroke-width="1.0" stroke-opacity="0.5"/>
<line x1="636.04" y1="151.00" x2="636.04" y2="163.00" stroke="#ffc800" stroke-width="1.0" stroke-opacity="0.7"/>
<line x1="636.04" y1="158.60" x2="636.04" y2="168.60" stroke="#ff3a00" stroke-width="1.0" stroke-opacity="0.5"/>
<line x1="645.16" y1="151.00" x2="645.16" y2="165.00" stroke="#ffc800" stroke-width="1.0" stroke-opacity="0.7"/>
<line x1="645.16" y1="156.60" x2="645.16" y2="168.60" stroke="#ff3a00" stroke-width="1.0" stroke-opacity="0.5"/>
<line x1="657.62" y1="148.60" x2="657.62" y2="160.60" stroke="#ffc800" stroke-width="1.0" stroke-opacity="0.7"/>
<line x1="657.62" y1="161.80" x2="657.62" y2="170.80" stroke="#ff3a00" stroke-width="1.0" stroke-opacity="0.5"/>
<line x1="678.43" y1="138.10" x2="678.43" y2="154.10" stroke="#ffc800" stroke-width="1.0" stroke-opacity="0.7"/>
<line x1="678.43" y1="152.60" x2="678.43" y2="170.60" stroke="#ff3a00" stroke-width="1.0" stroke-opacity="0.5"/>
<polygon points="395.40,167.10 400.20,167.10 397.80,163.10" fill="#ffc800"/>
<polygon points="426.42,167.10 431.22,167.10 428.82,163.10" fill="#ffc800"/>
<polygon points="444.30,163.80 449.10,163.80 446.70,159.80" fill="#ffc800"/>
<polygon points="456.08,166.60 460.88,166.60 458.48,162.60" fill="#ffc800"/>
<polygon points="464.87,167.10 469.67,167.10 467.27,163.10" fill="#ffc800"/>
<polygon points="471.90,167.60 476.70,167.60 474.30,163.60" fill="#ffc800"/>
<polygon points="478.41,167.60 483.21,167.60 480.81,163.60" fill="#ffc800"/>
<polygon points="484.46,167.10 489.26,167.10 486.86,163.10" fill="#ffc800"/>
<polygon points="489.62,163.80 494.42,163.80 492.02,159.80" fill="#ffc800"/>
<polygon points="494.53,168.10 499.33,168.10 496.93,164.10" fill="#ffc800"/>
<polygon points="499.21,167.60 504.01,167.60 501.61,163.60" fill="#ffc800"/>
<polygon points="503.33,167.60 508.13,167.60 505.73,163.60" fill="#ffc800"/>
<polygon points="507.31,167.10 512.11,167.10 509.71,163.10" fill="#ffc800"/>
<polygon points="511.40,167.60 516.20,167.60 513.80,163.60" fill="#ffc800"/>
<polygon points="515.52,167.60 520.32,167.60 517.92,163.60" fill="#ffc800"/>
<polygon points="519.62,167.10 524.42,167.10 522.02,163.10" fill="#ffc800"/>
<polygon points="523.65,167.60 528.45,167.60 526.05,163.60" fill="#ffc800"/>
<polygon points="527.59,167.10 532.39,167.10 529.99,163.10" fill="#ffc800"/>
<polygon points="531.57,166.60 536.37,166.60 533.97,162.60" fill="#ffc800"/>
<polygon points="535.79,167.10 540.59,167.10 538.19,163.10" fill="#ffc800"/>
<polygon points="540.24,167.30 545.04,167.30 542.64,163.30" fill="#ffc800"/>
<polygon points="544.89,167.70 549.69,167.70 547.29,163.70" fill="#ffc800"/>
<polygon points="549.86,168.10 554.66,168.10 552.26,164.10" fill="#ffc800"/>
<polygon points="555.33,167.10 560.13,167.10 557.73,163.10" fill="#ffc800"/>
<polygon points="561.56,167.10 566.36,167.10 563.96,163.10" fill="#ffc800"/>
<polygon points="568.90,167.40 573.70,167.40 571.30,163.40" fill="#ffc800"/>
<polygon points="578.13,167.70 582.93,167.70 580.53,163.70" fill="#ffc800"/>
<polygon points="588.17,163.10 592.97,163.10 590.57,159.10" fill="#ffc800"/>
<polygon points="597.97,162.40 602.77,162.40 600.37,158.40" fill="#ffc800"/>
<polygon points="606.72,163.10 611.52,163.10 609.12,159.10" fill="#ffc800"/>
<polygon points="615.34,161.50 620.14,161.50 617.74,157.50" fill="#ffc800"/>
<polygon points="624.51,160.00 629.31,160.00 626.91,156.00" fill="#ffc800"/>
<polygon points="633.64,159.00 638.44,159.00 636.04,155.00" fill="#ffc800"/>
<polygon points="642.76,160.00 647.56,160.00 645.16,156.00" fill="#ffc800"/>
<polygon points="655.22,156.60 660.02,156.60 657.62,152.60" fill="#ffc800"/>
<polygon points="676.03,148.10 680.83,148.10 678.43,144.10" fill="#ffc800"/>
<polygon points="395.20,161.30 400.40,161.30 397.80,165.90" fill="#ff3a00"/>
<polygon points="426.22,161.30 431.42,161.30 428.82,165.90" fill="#ff3a00"/>
<polygon points="444.10,162.70 449.30,162.70 446.70,167.30" fill="#ff3a00"/>
<polygon points="455.88,161.30 461.08,161.30 458.48,165.90" fill="#ff3a00"/>
<polygon points="464.67,161.30 469.87,161.30 467.27,165.90" fill="#ff3a00"/>
<polygon points="471.70,161.30 476.90,161.30 474.30,165.90" fill="#ff3a00"/>
<polygon points="478.21,161.30 483.41,161.30 480.81,165.90" fill="#ff3a00"/>
<polygon points="484.26,161.30 489.46,161.30 486.86,165.90" fill="#ff3a00"/>
<polygon points="489.42,161.70 494.62,161.70 492.02,166.30" fill="#ff3a00"/>
<polygon points="494.33,160.80 499.53,160.80 496.93,165.40" fill="#ff3a00"/>
<polygon points="499.01,161.30 504.21,161.30 501.61,165.90" fill="#ff3a00"/>
<polygon points="503.13,161.30 508.33,161.30 505.73,165.90" fill="#ff3a00"/>
<polygon points="507.11,161.30 512.31,161.30 509.71,165.90" fill="#ff3a00"/>
<polygon points="511.20,161.30 516.40,161.30 513.80,165.90" fill="#ff3a00"/>
<polygon points="515.32,161.30 520.52,161.30 517.92,165.90" fill="#ff3a00"/>
<polygon points="519.42,161.30 524.62,161.30 522.02,165.90" fill="#ff3a00"/>
<polygon points="523.45,161.30 528.65,161.30 526.05,165.90" fill="#ff3a00"/>
<polygon points="527.39,161.30 532.59,161.30 529.99,165.90" fill="#ff3a00"/>
<polygon points="531.37,161.30 536.57,161.30 533.97,165.90" fill="#ff3a00"/>
<polygon points="535.59,161.30 540.79,161.30 538.19,165.90" fill="#ff3a00"/>
<polygon points="540.04,161.80 545.24,161.80 542.64,166.40" fill="#ff3a00"/>
<polygon points="544.69,161.80 549.89,161.80 547.29,166.40" fill="#ff3a00"/>
<polygon points="549.66,161.30 554.86,161.30 552.26,165.90" fill="#ff3a00"/>
<polygon points="555.13,161.80 560.33,161.80 557.73,166.40" fill="#ff3a00"/>
<polygon points="561.36,161.80 566.56,161.80 563.96,166.40" fill="#ff3a00"/>
<polygon points="568.70,161.80 573.90,161.80 571.30,166.40" fill="#ff3a00"/>
<polygon points="577.93,161.80 583.13,161.80 580.53,166.40" fill="#ff3a00"/>
<polygon points="587.97,162.40 593.17,162.40 590.57,167.00" fill="#ff3a00"/>
<polygon points="597.77,161.90 602.97,161.90 600.37,166.50" fill="#ff3a00"/>
<polygon points="606.52,162.40 611.72,162.40 609.12,167.00" fill="#ff3a00"/>
<polygon points="615.14,162.40 620.34,162.40 617.74,167.00" fill="#ff3a00"/>
<polygon points="624.31,161.90 629.51,161.90 626.91,166.50" fill="#ff3a00"/>
<polygon points="633.44,161.30 638.64,161.30 636.04,165.90" fill="#ff3a00"/>
<polygon points="642.56,160.30 647.76,160.30 645.16,164.90" fill="#ff3a00"/>
<polygon points="655.02,164.00 660.22,164.00 657.62,168.60" fill="#ff3a00"/>
<polygon points="675.83,159.30 681.03,159.30 678.43,163.90" fill="#ff3a00"/>
</g>
<g clip-path="url(#clRt)">
<polygon points="395.30,58.80 400.30,58.80 397.80,63.80" fill="#ff3a00"/>
<polygon points="426.32,58.93 431.32,58.93 428.82,63.93" fill="#ff3a00"/>
<polygon points="444.20,59.00 449.20,59.00 446.70,64.00" fill="#ff3a00"/>
<polygon points="455.98,59.30 460.98,59.30 458.48,64.30" fill="#ff3a00"/>
<polygon points="464.77,59.53 469.77,59.53 467.27,64.53" fill="#ff3a00"/>
<polygon points="471.80,59.79 476.80,59.79 474.30,64.79" fill="#ff3a00"/>
<polygon points="478.31,60.08 483.31,60.08 480.81,65.08" fill="#ff3a00"/>
<polygon points="484.36,60.35 489.36,60.35 486.86,65.35" fill="#ff3a00"/>
<polygon points="489.52,60.93 494.52,60.93 492.02,65.93" fill="#ff3a00"/>
<polygon points="494.43,61.82 499.43,61.82 496.93,66.82" fill="#ff3a00"/>
<polygon points="499.11,62.39 504.11,62.39 501.61,67.39" fill="#ff3a00"/>
<polygon points="503.23,62.90 508.23,62.90 505.73,67.90" fill="#ff3a00"/>
<polygon points="507.21,63.48 512.21,63.48 509.71,68.48" fill="#ff3a00"/>
<polygon points="511.30,64.08 516.30,64.08 513.80,69.08" fill="#ff3a00"/>
<polygon points="515.42,64.68 520.42,64.68 517.92,69.68" fill="#ff3a00"/>
<polygon points="519.52,65.82 524.52,65.82 522.02,70.82" fill="#ff3a00"/>
<polygon points="523.55,66.97 528.55,66.97 526.05,71.97" fill="#ff3a00"/>
<polygon points="527.49,67.94 532.49,67.94 529.99,72.94" fill="#ff3a00"/>
<polygon points="531.47,68.91 536.47,68.91 533.97,73.91" fill="#ff3a00"/>
<polygon points="535.69,70.35 540.69,70.35 538.19,75.35" fill="#ff3a00"/>
<polygon points="540.14,71.92 545.14,71.92 542.64,76.92" fill="#ff3a00"/>
<polygon points="544.79,73.33 549.79,73.33 547.29,78.33" fill="#ff3a00"/>
<polygon points="549.76,74.73 554.76,74.73 552.26,79.73" fill="#ff3a00"/>
<polygon points="555.23,76.08 560.23,76.08 557.73,81.08" fill="#ff3a00"/>
<polygon points="561.46,78.99 566.46,78.99 563.96,83.99" fill="#ff3a00"/>
<polygon points="568.80,82.24 573.80,82.24 571.30,87.24" fill="#ff3a00"/>
<polygon points="578.03,86.87 583.03,86.87 580.53,91.87" fill="#ff3a00"/>
<polygon points="588.07,91.41 593.07,91.41 590.57,96.41" fill="#ff3a00"/>
<polygon points="597.87,96.12 602.87,96.12 600.37,101.12" fill="#ff3a00"/>
<polygon points="606.62,101.44 611.62,101.44 609.12,106.44" fill="#ff3a00"/>
<polygon points="615.24,106.17 620.24,106.17 617.74,111.17" fill="#ff3a00"/>
<polygon points="624.41,111.61 629.41,111.61 626.91,116.61" fill="#ff3a00"/>
<polygon points="633.54,117.37 638.54,117.37 636.04,122.37" fill="#ff3a00"/>
<polygon points="642.66,122.18 647.66,122.18 645.16,127.18" fill="#ff3a00"/>
<polygon points="655.12,129.40 660.12,129.40 657.62,134.40" fill="#ff3a00"/>
<polygon points="675.93,139.30 680.93,139.30 678.43,144.30" fill="#ff3a00"/>
<polygon points="395.30,63.80 400.30,63.80 397.80,58.80" fill="#ffc800"/>
<polygon points="426.32,63.93 431.32,63.93 428.82,58.93" fill="#ffc800"/>
<polygon points="444.20,64.00 449.20,64.00 446.70,59.00" fill="#ffc800"/>
<polygon points="455.98,64.30 460.98,64.30 458.48,59.30" fill="#ffc800"/>
<polygon points="464.77,64.53 469.77,64.53 467.27,59.53" fill="#ffc800"/>
<polygon points="471.80,64.79 476.80,64.79 474.30,59.79" fill="#ffc800"/>
<polygon points="478.31,65.08 483.31,65.08 480.81,60.08" fill="#ffc800"/>
<polygon points="484.36,65.35 489.36,65.35 486.86,60.35" fill="#ffc800"/>
<polygon points="489.52,65.93 494.52,65.93 492.02,60.93" fill="#ffc800"/>
<polygon points="494.43,66.82 499.43,66.82 496.93,61.82" fill="#ffc800"/>
<polygon points="499.11,67.39 504.11,67.39 501.61,62.39" fill="#ffc800"/>
<polygon points="503.23,67.90 508.23,67.90 505.73,62.90" fill="#ffc800"/>
<polygon points="507.21,68.48 512.21,68.48 509.71,63.48" fill="#ffc800"/>
<polygon points="511.30,69.08 516.30,69.08 513.80,64.08" fill="#ffc800"/>
<polygon points="515.42,69.68 520.42,69.68 517.92,64.68" fill="#ffc800"/>
<polygon points="519.52,70.82 524.52,70.82 522.02,65.82" fill="#ffc800"/>
<polygon points="523.55,71.97 528.55,71.97 526.05,66.97" fill="#ffc800"/>
<polygon points="527.49,72.94 532.49,72.94 529.99,67.94" fill="#ffc800"/>
<polygon points="531.47,73.91 536.47,73.91 533.97,68.91" fill="#ffc800"/>
<polygon points="535.69,75.35 540.69,75.35 538.19,70.35" fill="#ffc800"/>
<polygon points="540.14,76.92 545.14,76.92 542.64,71.92" fill="#ffc800"/>
<polygon points="544.79,78.33 549.79,78.33 547.29,73.33" fill="#ffc800"/>
<polygon points="549.76,79.73 554.76,79.73 552.26,74.73" fill="#ffc800"/>
<polygon points="555.23,81.08 560.23,81.08 557.73,76.08" fill="#ffc800"/>
<polygon points="561.46,83.99 566.46,83.99 563.96,78.99" fill="#ffc800"/>
<polygon points="568.80,87.24 573.80,87.24 571.30,82.24" fill="#ffc800"/>
<polygon points="578.03,91.87 583.03,91.87 580.53,86.87" fill="#ffc800"/>
<polygon points="588.07,96.41 593.07,96.41 590.57,91.41" fill="#ffc800"/>
<polygon points="597.87,101.12 602.87,101.12 600.37,96.12" fill="#ffc800"/>
<polygon points="606.62,106.44 611.62,106.44 609.12,101.44" fill="#ffc800"/>
<polygon points="615.24,111.17 620.24,111.17 617.74,106.17" fill="#ffc800"/>
<polygon points="624.41,116.61 629.41,116.61 626.91,111.61" fill="#ffc800"/>
<polygon points="633.54,122.37 638.54,122.37 636.04,117.37" fill="#ffc800"/>
<polygon points="642.66,127.18 647.66,127.18 645.16,122.18" fill="#ffc800"/>
<polygon points="655.12,134.40 660.12,134.40 657.62,129.40" fill="#ffc800"/>
<polygon points="675.93,144.30 680.93,144.30 678.43,139.30" fill="#ffc800"/>
<line x1="389.90" y1="61.45" x2="414.63" y2="61.45" stroke="#1c6bd3" stroke-width="1.7" />
<line x1="414.63" y1="61.58" x2="438.89" y2="61.58" stroke="#1c6bd3" stroke-width="1.7" />
<line x1="438.89" y1="61.65" x2="453.08" y2="61.65" stroke="#1c6bd3" stroke-width="1.7" />
<line x1="453.08" y1="61.95" x2="463.15" y2="61.95" stroke="#1c6bd3" stroke-width="1.7" />
<line x1="463.15" y1="62.18" x2="470.96" y2="62.18" stroke="#1c6bd3" stroke-width="1.7" />
<line x1="470.96" y1="62.44" x2="477.35" y2="62.44" stroke="#1c6bd3" stroke-width="1.7" />
<line x1="477.35" y1="62.73" x2="483.97" y2="62.73" stroke="#1c6bd3" stroke-width="1.7" />
<line x1="483.97" y1="63.00" x2="489.54" y2="63.00" stroke="#1c6bd3" stroke-width="1.7" />
<line x1="489.54" y1="63.58" x2="494.34" y2="63.58" stroke="#1c6bd3" stroke-width="1.7" />
<line x1="494.34" y1="64.47" x2="499.35" y2="64.47" stroke="#1c6bd3" stroke-width="1.7" />
<line x1="499.35" y1="65.04" x2="503.73" y2="65.04" stroke="#1c6bd3" stroke-width="1.7" />
<line x1="503.73" y1="65.55" x2="507.62" y2="65.55" stroke="#1c6bd3" stroke-width="1.7" />
<line x1="507.62" y1="66.13" x2="511.68" y2="66.13" stroke="#1c6bd3" stroke-width="1.7" />
<line x1="511.68" y1="66.73" x2="515.80" y2="66.73" stroke="#1c6bd3" stroke-width="1.7" />
<line x1="515.80" y1="67.33" x2="519.92" y2="67.33" stroke="#1c6bd3" stroke-width="1.7" />
<line x1="519.92" y1="68.47" x2="524.00" y2="68.47" stroke="#1c6bd3" stroke-width="1.7" />
<line x1="524.00" y1="69.62" x2="527.99" y2="69.62" stroke="#1c6bd3" stroke-width="1.7" />
<line x1="527.99" y1="70.59" x2="531.89" y2="70.59" stroke="#1c6bd3" stroke-width="1.7" />
<line x1="531.89" y1="71.56" x2="535.94" y2="71.56" stroke="#1c6bd3" stroke-width="1.7" />
<line x1="535.94" y1="73.00" x2="540.31" y2="73.00" stroke="#1c6bd3" stroke-width="1.7" />
<line x1="540.31" y1="74.57" x2="544.83" y2="74.57" stroke="#1c6bd3" stroke-width="1.7" />
<line x1="544.83" y1="75.98" x2="549.58" y2="75.98" stroke="#1c6bd3" stroke-width="1.7" />
<line x1="549.58" y1="77.38" x2="554.74" y2="77.38" stroke="#1c6bd3" stroke-width="1.7" />
<line x1="554.74" y1="78.73" x2="560.48" y2="78.73" stroke="#1c6bd3" stroke-width="1.7" />
<line x1="560.48" y1="81.64" x2="567.13" y2="81.64" stroke="#1c6bd3" stroke-width="1.7" />
<line x1="567.13" y1="84.89" x2="575.03" y2="84.89" stroke="#1c6bd3" stroke-width="1.7" />
<line x1="575.03" y1="89.52" x2="585.28" y2="89.52" stroke="#1c6bd3" stroke-width="1.7" />
<line x1="585.28" y1="94.06" x2="595.16" y2="94.06" stroke="#1c6bd3" stroke-width="1.7" />
<line x1="595.16" y1="98.77" x2="604.91" y2="98.77" stroke="#1c6bd3" stroke-width="1.7" />
<line x1="604.91" y1="104.09" x2="612.88" y2="104.09" stroke="#1c6bd3" stroke-width="1.7" />
<line x1="612.88" y1="108.82" x2="622.00" y2="108.82" stroke="#1c6bd3" stroke-width="1.7" />
<line x1="622.00" y1="114.26" x2="631.22" y2="114.26" stroke="#1c6bd3" stroke-width="1.7" />
<line x1="631.22" y1="120.02" x2="640.28" y2="120.02" stroke="#1c6bd3" stroke-width="1.7" />
<line x1="640.28" y1="124.83" x2="649.45" y2="124.83" stroke="#1c6bd3" stroke-width="1.7" />
<line x1="649.45" y1="132.05" x2="664.24" y2="132.05" stroke="#1c6bd3" stroke-width="1.7" />
<line x1="664.24" y1="141.95" x2="688.50" y2="141.95" stroke="#1c6bd3" stroke-width="1.7" />
</g>
<line x1="389.90" y1="142.69" x2="394.90" y2="142.69" stroke="#333" stroke-width="0.8" />
<line x1="684.60" y1="142.69" x2="679.60" y2="142.69" stroke="#333" stroke-width="0.8" />
<line x1="389.90" y1="140.42" x2="394.90" y2="140.42" stroke="#333" stroke-width="0.8" />
<line x1="684.60" y1="140.42" x2="679.60" y2="140.42" stroke="#333" stroke-width="0.8" />
<line x1="389.90" y1="138.66" x2="394.90" y2="138.66" stroke="#333" stroke-width="0.8" />
<line x1="684.60" y1="138.66" x2="679.60" y2="138.66" stroke="#333" stroke-width="0.8" />
<line x1="389.90" y1="137.22" x2="394.90" y2="137.22" stroke="#333" stroke-width="0.8" />
<line x1="684.60" y1="137.22" x2="679.60" y2="137.22" stroke="#333" stroke-width="0.8" />
<line x1="389.90" y1="136.00" x2="394.90" y2="136.00" stroke="#333" stroke-width="0.8" />
<line x1="684.60" y1="136.00" x2="679.60" y2="136.00" stroke="#333" stroke-width="0.8" />
<line x1="389.90" y1="134.95" x2="394.90" y2="134.95" stroke="#333" stroke-width="0.8" />
<line x1="684.60" y1="134.95" x2="679.60" y2="134.95" stroke="#333" stroke-width="0.8" />
<line x1="389.90" y1="134.02" x2="394.90" y2="134.02" stroke="#333" stroke-width="0.8" />
<line x1="684.60" y1="134.02" x2="679.60" y2="134.02" stroke="#333" stroke-width="0.8" />
<line x1="389.90" y1="133.19" x2="399.90" y2="133.19" stroke="#111" stroke-width="0.8" />
<line x1="684.60" y1="133.19" x2="674.60" y2="133.19" stroke="#111" stroke-width="0.8" />
<line x1="389.90" y1="127.72" x2="394.90" y2="127.72" stroke="#333" stroke-width="0.8" />
<line x1="684.60" y1="127.72" x2="679.60" y2="127.72" stroke="#333" stroke-width="0.8" />
<line x1="389.90" y1="124.52" x2="394.90" y2="124.52" stroke="#333" stroke-width="0.8" />
<line x1="684.60" y1="124.52" x2="679.60" y2="124.52" stroke="#333" stroke-width="0.8" />
<line x1="389.90" y1="122.25" x2="394.90" y2="122.25" stroke="#333" stroke-width="0.8" />
<line x1="684.60" y1="122.25" x2="679.60" y2="122.25" stroke="#333" stroke-width="0.8" />
<line x1="389.90" y1="120.49" x2="394.90" y2="120.49" stroke="#333" stroke-width="0.8" />
<line x1="684.60" y1="120.49" x2="679.60" y2="120.49" stroke="#333" stroke-width="0.8" />
<line x1="389.90" y1="119.05" x2="394.90" y2="119.05" stroke="#333" stroke-width="0.8" />
<line x1="684.60" y1="119.05" x2="679.60" y2="119.05" stroke="#333" stroke-width="0.8" />
<line x1="389.90" y1="117.83" x2="394.90" y2="117.83" stroke="#333" stroke-width="0.8" />
<line x1="684.60" y1="117.83" x2="679.60" y2="117.83" stroke="#333" stroke-width="0.8" />
<line x1="389.90" y1="116.78" x2="394.90" y2="116.78" stroke="#333" stroke-width="0.8" />
<line x1="684.60" y1="116.78" x2="679.60" y2="116.78" stroke="#333" stroke-width="0.8" />
<line x1="389.90" y1="115.85" x2="394.90" y2="115.85" stroke="#333" stroke-width="0.8" />
<line x1="684.60" y1="115.85" x2="679.60" y2="115.85" stroke="#333" stroke-width="0.8" />
<line x1="389.90" y1="115.02" x2="399.90" y2="115.02" stroke="#111" stroke-width="0.8" />
<line x1="684.60" y1="115.02" x2="674.60" y2="115.02" stroke="#111" stroke-width="0.8" />
<line x1="389.90" y1="109.55" x2="394.90" y2="109.55" stroke="#333" stroke-width="0.8" />
<line x1="684.60" y1="109.55" x2="679.60" y2="109.55" stroke="#333" stroke-width="0.8" />
<line x1="389.90" y1="106.35" x2="394.90" y2="106.35" stroke="#333" stroke-width="0.8" />
<line x1="684.60" y1="106.35" x2="679.60" y2="106.35" stroke="#333" stroke-width="0.8" />
<line x1="389.90" y1="104.08" x2="394.90" y2="104.08" stroke="#333" stroke-width="0.8" />
<line x1="684.60" y1="104.08" x2="679.60" y2="104.08" stroke="#333" stroke-width="0.8" />
<line x1="389.90" y1="102.32" x2="394.90" y2="102.32" stroke="#333" stroke-width="0.8" />
<line x1="684.60" y1="102.32" x2="679.60" y2="102.32" stroke="#333" stroke-width="0.8" />
<line x1="389.90" y1="100.88" x2="394.90" y2="100.88" stroke="#333" stroke-width="0.8" />
<line x1="684.60" y1="100.88" x2="679.60" y2="100.88" stroke="#333" stroke-width="0.8" />
<line x1="389.90" y1="99.66" x2="394.90" y2="99.66" stroke="#333" stroke-width="0.8" />
<line x1="684.60" y1="99.66" x2="679.60" y2="99.66" stroke="#333" stroke-width="0.8" />
<line x1="389.90" y1="98.61" x2="394.90" y2="98.61" stroke="#333" stroke-width="0.8" />
<line x1="684.60" y1="98.61" x2="679.60" y2="98.61" stroke="#333" stroke-width="0.8" />
<line x1="389.90" y1="97.68" x2="394.90" y2="97.68" stroke="#333" stroke-width="0.8" />
<line x1="684.60" y1="97.68" x2="679.60" y2="97.68" stroke="#333" stroke-width="0.8" />
<line x1="389.90" y1="96.85" x2="399.90" y2="96.85" stroke="#111" stroke-width="0.8" />
<line x1="684.60" y1="96.85" x2="674.60" y2="96.85" stroke="#111" stroke-width="0.8" />
<line x1="389.90" y1="91.38" x2="394.90" y2="91.38" stroke="#333" stroke-width="0.8" />
<line x1="684.60" y1="91.38" x2="679.60" y2="91.38" stroke="#333" stroke-width="0.8" />
<line x1="389.90" y1="88.18" x2="394.90" y2="88.18" stroke="#333" stroke-width="0.8" />
<line x1="684.60" y1="88.18" x2="679.60" y2="88.18" stroke="#333" stroke-width="0.8" />
<line x1="389.90" y1="85.91" x2="394.90" y2="85.91" stroke="#333" stroke-width="0.8" />
<line x1="684.60" y1="85.91" x2="679.60" y2="85.91" stroke="#333" stroke-width="0.8" />
<line x1="389.90" y1="84.15" x2="394.90" y2="84.15" stroke="#333" stroke-width="0.8" />
<line x1="684.60" y1="84.15" x2="679.60" y2="84.15" stroke="#333" stroke-width="0.8" />
<line x1="389.90" y1="82.71" x2="394.90" y2="82.71" stroke="#333" stroke-width="0.8" />
<line x1="684.60" y1="82.71" x2="679.60" y2="82.71" stroke="#333" stroke-width="0.8" />
<line x1="389.90" y1="81.49" x2="394.90" y2="81.49" stroke="#333" stroke-width="0.8" />
<line x1="684.60" y1="81.49" x2="679.60" y2="81.49" stroke="#333" stroke-width="0.8" />
<line x1="389.90" y1="80.44" x2="394.90" y2="80.44" stroke="#333" stroke-width="0.8" />
<line x1="684.60" y1="80.44" x2="679.60" y2="80.44" stroke="#333" stroke-width="0.8" />
<line x1="389.90" y1="79.51" x2="394.90" y2="79.51" stroke="#333" stroke-width="0.8" />
<line x1="684.60" y1="79.51" x2="679.60" y2="79.51" stroke="#333" stroke-width="0.8" />
<line x1="389.90" y1="78.68" x2="399.90" y2="78.68" stroke="#111" stroke-width="0.8" />
<line x1="684.60" y1="78.68" x2="674.60" y2="78.68" stroke="#111" stroke-width="0.8" />
<line x1="389.90" y1="73.21" x2="394.90" y2="73.21" stroke="#333" stroke-width="0.8" />
<line x1="684.60" y1="73.21" x2="679.60" y2="73.21" stroke="#333" stroke-width="0.8" />
<line x1="389.90" y1="70.01" x2="394.90" y2="70.01" stroke="#333" stroke-width="0.8" />
<line x1="684.60" y1="70.01" x2="679.60" y2="70.01" stroke="#333" stroke-width="0.8" />
<line x1="389.90" y1="67.74" x2="394.90" y2="67.74" stroke="#333" stroke-width="0.8" />
<line x1="684.60" y1="67.74" x2="679.60" y2="67.74" stroke="#333" stroke-width="0.8" />
<line x1="389.90" y1="65.98" x2="394.90" y2="65.98" stroke="#333" stroke-width="0.8" />
<line x1="684.60" y1="65.98" x2="679.60" y2="65.98" stroke="#333" stroke-width="0.8" />
<line x1="389.90" y1="64.54" x2="394.90" y2="64.54" stroke="#333" stroke-width="0.8" />
<line x1="684.60" y1="64.54" x2="679.60" y2="64.54" stroke="#333" stroke-width="0.8" />
<line x1="389.90" y1="63.32" x2="394.90" y2="63.32" stroke="#333" stroke-width="0.8" />
<line x1="684.60" y1="63.32" x2="679.60" y2="63.32" stroke="#333" stroke-width="0.8" />
<line x1="389.90" y1="62.27" x2="394.90" y2="62.27" stroke="#333" stroke-width="0.8" />
<line x1="684.60" y1="62.27" x2="679.60" y2="62.27" stroke="#333" stroke-width="0.8" />
<line x1="389.90" y1="61.34" x2="394.90" y2="61.34" stroke="#333" stroke-width="0.8" />
<line x1="684.60" y1="61.34" x2="679.60" y2="61.34" stroke="#333" stroke-width="0.8" />
<line x1="389.90" y1="60.51" x2="399.90" y2="60.51" stroke="#111" stroke-width="0.8" />
<line x1="684.60" y1="60.51" x2="674.60" y2="60.51" stroke="#111" stroke-width="0.8" />
<line x1="389.90" y1="55.04" x2="394.90" y2="55.04" stroke="#333" stroke-width="0.8" />
<line x1="684.60" y1="55.04" x2="679.60" y2="55.04" stroke="#333" stroke-width="0.8" />
<line x1="389.90" y1="51.84" x2="394.90" y2="51.84" stroke="#333" stroke-width="0.8" />
<line x1="684.60" y1="51.84" x2="679.60" y2="51.84" stroke="#333" stroke-width="0.8" />
<line x1="389.90" y1="49.57" x2="394.90" y2="49.57" stroke="#333" stroke-width="0.8" />
<line x1="684.60" y1="49.57" x2="679.60" y2="49.57" stroke="#333" stroke-width="0.8" />
<line x1="389.90" y1="47.81" x2="394.90" y2="47.81" stroke="#333" stroke-width="0.8" />
<line x1="684.60" y1="47.81" x2="679.60" y2="47.81" stroke="#333" stroke-width="0.8" />
<line x1="389.90" y1="46.37" x2="394.90" y2="46.37" stroke="#333" stroke-width="0.8" />
<line x1="684.60" y1="46.37" x2="679.60" y2="46.37" stroke="#333" stroke-width="0.8" />
<line x1="389.90" y1="45.15" x2="394.90" y2="45.15" stroke="#333" stroke-width="0.8" />
<line x1="684.60" y1="45.15" x2="679.60" y2="45.15" stroke="#333" stroke-width="0.8" />
<line x1="389.90" y1="44.10" x2="394.90" y2="44.10" stroke="#333" stroke-width="0.8" />
<line x1="684.60" y1="44.10" x2="679.60" y2="44.10" stroke="#333" stroke-width="0.8" />
<line x1="389.90" y1="43.17" x2="394.90" y2="43.17" stroke="#333" stroke-width="0.8" />
<line x1="684.60" y1="43.17" x2="679.60" y2="43.17" stroke="#333" stroke-width="0.8" />
<line x1="389.90" y1="42.34" x2="399.90" y2="42.34" stroke="#111" stroke-width="0.8" />
<line x1="684.60" y1="42.34" x2="674.60" y2="42.34" stroke="#111" stroke-width="0.8" />
<line x1="389.90" y1="36.87" x2="394.90" y2="36.87" stroke="#333" stroke-width="0.8" />
<line x1="684.60" y1="36.87" x2="679.60" y2="36.87" stroke="#333" stroke-width="0.8" />
<line x1="389.90" y1="33.67" x2="394.90" y2="33.67" stroke="#333" stroke-width="0.8" />
<line x1="684.60" y1="33.67" x2="679.60" y2="33.67" stroke="#333" stroke-width="0.8" />
<line x1="389.90" y1="31.40" x2="394.90" y2="31.40" stroke="#333" stroke-width="0.8" />
<line x1="684.60" y1="31.40" x2="679.60" y2="31.40" stroke="#333" stroke-width="0.8" />
<line x1="389.90" y1="29.64" x2="394.90" y2="29.64" stroke="#333" stroke-width="0.8" />
<line x1="684.60" y1="29.64" x2="679.60" y2="29.64" stroke="#333" stroke-width="0.8" />
<line x1="389.90" y1="28.20" x2="394.90" y2="28.20" stroke="#333" stroke-width="0.8" />
<line x1="684.60" y1="28.20" x2="679.60" y2="28.20" stroke="#333" stroke-width="0.8" />
<line x1="389.90" y1="26.98" x2="394.90" y2="26.98" stroke="#333" stroke-width="0.8" />
<line x1="684.60" y1="26.98" x2="679.60" y2="26.98" stroke="#333" stroke-width="0.8" />
<line x1="389.90" y1="25.93" x2="394.90" y2="25.93" stroke="#333" stroke-width="0.8" />
<line x1="684.60" y1="25.93" x2="679.60" y2="25.93" stroke="#333" stroke-width="0.8" />
<line x1="389.90" y1="25.00" x2="394.90" y2="25.00" stroke="#333" stroke-width="0.8" />
<line x1="684.60" y1="25.00" x2="679.60" y2="25.00" stroke="#333" stroke-width="0.8" />
<line x1="389.90" y1="24.17" x2="399.90" y2="24.17" stroke="#111" stroke-width="0.8" />
<line x1="684.60" y1="24.17" x2="674.60" y2="24.17" stroke="#111" stroke-width="0.8" />
<line x1="389.90" y1="18.70" x2="394.90" y2="18.70" stroke="#333" stroke-width="0.8" />
<line x1="684.60" y1="18.70" x2="679.60" y2="18.70" stroke="#333" stroke-width="0.8" />
<line x1="389.90" y1="15.50" x2="394.90" y2="15.50" stroke="#333" stroke-width="0.8" />
<line x1="684.60" y1="15.50" x2="679.60" y2="15.50" stroke="#333" stroke-width="0.8" />
<line x1="389.90" y1="13.23" x2="394.90" y2="13.23" stroke="#333" stroke-width="0.8" />
<line x1="684.60" y1="13.23" x2="679.60" y2="13.23" stroke="#333" stroke-width="0.8" />
<line x1="389.90" y1="11.47" x2="394.90" y2="11.47" stroke="#333" stroke-width="0.8" />
<line x1="684.60" y1="11.47" x2="679.60" y2="11.47" stroke="#333" stroke-width="0.8" />
<line x1="389.90" y1="10.03" x2="394.90" y2="10.03" stroke="#333" stroke-width="0.8" />
<line x1="684.60" y1="10.03" x2="679.60" y2="10.03" stroke="#333" stroke-width="0.8" />
<line x1="389.90" y1="8.81" x2="394.90" y2="8.81" stroke="#333" stroke-width="0.8" />
<line x1="684.60" y1="8.81" x2="679.60" y2="8.81" stroke="#333" stroke-width="0.8" />
<line x1="389.90" y1="7.76" x2="394.90" y2="7.76" stroke="#333" stroke-width="0.8" />
<line x1="684.60" y1="7.76" x2="679.60" y2="7.76" stroke="#333" stroke-width="0.8" />
<line x1="389.90" y1="6.83" x2="394.90" y2="6.83" stroke="#333" stroke-width="0.8" />
<line x1="684.60" y1="6.83" x2="679.60" y2="6.83" stroke="#333" stroke-width="0.8" />
<line x1="390.36" y1="6.00" x2="390.36" y2="8.20" stroke="#333" stroke-width="0.8" />
<line x1="390.36" y1="145.50" x2="390.36" y2="143.30" stroke="#333" stroke-width="0.8" />
<line x1="390.36" y1="182.30" x2="390.36" y2="181.20" stroke="#333" stroke-width="0.7" />
<line x1="390.36" y1="182.30" x2="390.36" y2="183.40" stroke="#333" stroke-width="0.7" />
<line x1="390.36" y1="221.20" x2="390.36" y2="219.90" stroke="#333" stroke-width="0.8" />
<line x1="404.56" y1="6.00" x2="404.56" y2="8.20" stroke="#333" stroke-width="0.8" />
<line x1="404.56" y1="145.50" x2="404.56" y2="143.30" stroke="#333" stroke-width="0.8" />
<line x1="404.56" y1="182.30" x2="404.56" y2="181.20" stroke="#333" stroke-width="0.7" />
<line x1="404.56" y1="182.30" x2="404.56" y2="183.40" stroke="#333" stroke-width="0.7" />
<line x1="404.56" y1="221.20" x2="404.56" y2="219.90" stroke="#333" stroke-width="0.8" />
<line x1="414.63" y1="6.00" x2="414.63" y2="8.20" stroke="#333" stroke-width="0.8" />
<line x1="414.63" y1="145.50" x2="414.63" y2="143.30" stroke="#333" stroke-width="0.8" />
<line x1="414.63" y1="182.30" x2="414.63" y2="181.20" stroke="#333" stroke-width="0.7" />
<line x1="414.63" y1="182.30" x2="414.63" y2="183.40" stroke="#333" stroke-width="0.7" />
<line x1="414.63" y1="221.20" x2="414.63" y2="219.90" stroke="#333" stroke-width="0.8" />
<line x1="422.44" y1="6.00" x2="422.44" y2="8.20" stroke="#333" stroke-width="0.8" />
<line x1="422.44" y1="145.50" x2="422.44" y2="143.30" stroke="#333" stroke-width="0.8" />
<line x1="422.44" y1="182.30" x2="422.44" y2="181.20" stroke="#333" stroke-width="0.7" />
<line x1="422.44" y1="182.30" x2="422.44" y2="183.40" stroke="#333" stroke-width="0.7" />
<line x1="422.44" y1="221.20" x2="422.44" y2="219.90" stroke="#333" stroke-width="0.8" />
<line x1="428.82" y1="6.00" x2="428.82" y2="8.20" stroke="#333" stroke-width="0.8" />
<line x1="428.82" y1="145.50" x2="428.82" y2="143.30" stroke="#333" stroke-width="0.8" />
<line x1="428.82" y1="182.30" x2="428.82" y2="181.20" stroke="#333" stroke-width="0.7" />
<line x1="428.82" y1="182.30" x2="428.82" y2="183.40" stroke="#333" stroke-width="0.7" />
<line x1="428.82" y1="221.20" x2="428.82" y2="219.90" stroke="#333" stroke-width="0.8" />
<line x1="434.21" y1="6.00" x2="434.21" y2="8.20" stroke="#333" stroke-width="0.8" />
<line x1="434.21" y1="145.50" x2="434.21" y2="143.30" stroke="#333" stroke-width="0.8" />
<line x1="434.21" y1="182.30" x2="434.21" y2="181.20" stroke="#333" stroke-width="0.7" />
<line x1="434.21" y1="182.30" x2="434.21" y2="183.40" stroke="#333" stroke-width="0.7" />
<line x1="434.21" y1="221.20" x2="434.21" y2="219.90" stroke="#333" stroke-width="0.8" />
<line x1="438.89" y1="6.00" x2="438.89" y2="8.20" stroke="#333" stroke-width="0.8" />
<line x1="438.89" y1="145.50" x2="438.89" y2="143.30" stroke="#333" stroke-width="0.8" />
<line x1="438.89" y1="182.30" x2="438.89" y2="181.20" stroke="#333" stroke-width="0.7" />
<line x1="438.89" y1="182.30" x2="438.89" y2="183.40" stroke="#333" stroke-width="0.7" />
<line x1="438.89" y1="221.20" x2="438.89" y2="219.90" stroke="#333" stroke-width="0.8" />
<line x1="443.01" y1="6.00" x2="443.01" y2="8.20" stroke="#333" stroke-width="0.8" />
<line x1="443.01" y1="145.50" x2="443.01" y2="143.30" stroke="#333" stroke-width="0.8" />
<line x1="443.01" y1="182.30" x2="443.01" y2="181.20" stroke="#333" stroke-width="0.7" />
<line x1="443.01" y1="182.30" x2="443.01" y2="183.40" stroke="#333" stroke-width="0.7" />
<line x1="443.01" y1="221.20" x2="443.01" y2="219.90" stroke="#333" stroke-width="0.8" />
<line x1="446.70" y1="6.00" x2="446.70" y2="9.40" stroke="#111" stroke-width="0.8" />
<line x1="446.70" y1="145.50" x2="446.70" y2="142.10" stroke="#111" stroke-width="0.8" />
<line x1="446.70" y1="182.30" x2="446.70" y2="180.60" stroke="#111" stroke-width="0.7" />
<line x1="446.70" y1="182.30" x2="446.70" y2="184.00" stroke="#111" stroke-width="0.7" />
<line x1="446.70" y1="221.20" x2="446.70" y2="218.80" stroke="#111" stroke-width="0.8" />
<line x1="470.96" y1="6.00" x2="470.96" y2="8.20" stroke="#333" stroke-width="0.8" />
<line x1="470.96" y1="145.50" x2="470.96" y2="143.30" stroke="#333" stroke-width="0.8" />
<line x1="470.96" y1="182.30" x2="470.96" y2="181.20" stroke="#333" stroke-width="0.7" />
<line x1="470.96" y1="182.30" x2="470.96" y2="183.40" stroke="#333" stroke-width="0.7" />
<line x1="470.96" y1="221.20" x2="470.96" y2="219.90" stroke="#333" stroke-width="0.8" />
<line x1="485.16" y1="6.00" x2="485.16" y2="8.20" stroke="#333" stroke-width="0.8" />
<line x1="485.16" y1="145.50" x2="485.16" y2="143.30" stroke="#333" stroke-width="0.8" />
<line x1="485.16" y1="182.30" x2="485.16" y2="181.20" stroke="#333" stroke-width="0.7" />
<line x1="485.16" y1="182.30" x2="485.16" y2="183.40" stroke="#333" stroke-width="0.7" />
<line x1="485.16" y1="221.20" x2="485.16" y2="219.90" stroke="#333" stroke-width="0.8" />
<line x1="495.23" y1="6.00" x2="495.23" y2="8.20" stroke="#333" stroke-width="0.8" />
<line x1="495.23" y1="145.50" x2="495.23" y2="143.30" stroke="#333" stroke-width="0.8" />
<line x1="495.23" y1="182.30" x2="495.23" y2="181.20" stroke="#333" stroke-width="0.7" />
<line x1="495.23" y1="182.30" x2="495.23" y2="183.40" stroke="#333" stroke-width="0.7" />
<line x1="495.23" y1="221.20" x2="495.23" y2="219.90" stroke="#333" stroke-width="0.8" />
<line x1="503.04" y1="6.00" x2="503.04" y2="8.20" stroke="#333" stroke-width="0.8" />
<line x1="503.04" y1="145.50" x2="503.04" y2="143.30" stroke="#333" stroke-width="0.8" />
<line x1="503.04" y1="182.30" x2="503.04" y2="181.20" stroke="#333" stroke-width="0.7" />
<line x1="503.04" y1="182.30" x2="503.04" y2="183.40" stroke="#333" stroke-width="0.7" />
<line x1="503.04" y1="221.20" x2="503.04" y2="219.90" stroke="#333" stroke-width="0.8" />
<line x1="509.42" y1="6.00" x2="509.42" y2="8.20" stroke="#333" stroke-width="0.8" />
<line x1="509.42" y1="145.50" x2="509.42" y2="143.30" stroke="#333" stroke-width="0.8" />
<line x1="509.42" y1="182.30" x2="509.42" y2="181.20" stroke="#333" stroke-width="0.7" />
<line x1="509.42" y1="182.30" x2="509.42" y2="183.40" stroke="#333" stroke-width="0.7" />
<line x1="509.42" y1="221.20" x2="509.42" y2="219.90" stroke="#333" stroke-width="0.8" />
<line x1="514.81" y1="6.00" x2="514.81" y2="8.20" stroke="#333" stroke-width="0.8" />
<line x1="514.81" y1="145.50" x2="514.81" y2="143.30" stroke="#333" stroke-width="0.8" />
<line x1="514.81" y1="182.30" x2="514.81" y2="181.20" stroke="#333" stroke-width="0.7" />
<line x1="514.81" y1="182.30" x2="514.81" y2="183.40" stroke="#333" stroke-width="0.7" />
<line x1="514.81" y1="221.20" x2="514.81" y2="219.90" stroke="#333" stroke-width="0.8" />
<line x1="519.49" y1="6.00" x2="519.49" y2="8.20" stroke="#333" stroke-width="0.8" />
<line x1="519.49" y1="145.50" x2="519.49" y2="143.30" stroke="#333" stroke-width="0.8" />
<line x1="519.49" y1="182.30" x2="519.49" y2="181.20" stroke="#333" stroke-width="0.7" />
<line x1="519.49" y1="182.30" x2="519.49" y2="183.40" stroke="#333" stroke-width="0.7" />
<line x1="519.49" y1="221.20" x2="519.49" y2="219.90" stroke="#333" stroke-width="0.8" />
<line x1="523.61" y1="6.00" x2="523.61" y2="8.20" stroke="#333" stroke-width="0.8" />
<line x1="523.61" y1="145.50" x2="523.61" y2="143.30" stroke="#333" stroke-width="0.8" />
<line x1="523.61" y1="182.30" x2="523.61" y2="181.20" stroke="#333" stroke-width="0.7" />
<line x1="523.61" y1="182.30" x2="523.61" y2="183.40" stroke="#333" stroke-width="0.7" />
<line x1="523.61" y1="221.20" x2="523.61" y2="219.90" stroke="#333" stroke-width="0.8" />
<line x1="527.30" y1="6.00" x2="527.30" y2="9.40" stroke="#111" stroke-width="0.8" />
<line x1="527.30" y1="145.50" x2="527.30" y2="142.10" stroke="#111" stroke-width="0.8" />
<line x1="527.30" y1="182.30" x2="527.30" y2="180.60" stroke="#111" stroke-width="0.7" />
<line x1="527.30" y1="182.30" x2="527.30" y2="184.00" stroke="#111" stroke-width="0.7" />
<line x1="527.30" y1="221.20" x2="527.30" y2="218.80" stroke="#111" stroke-width="0.8" />
<line x1="551.56" y1="6.00" x2="551.56" y2="8.20" stroke="#333" stroke-width="0.8" />
<line x1="551.56" y1="145.50" x2="551.56" y2="143.30" stroke="#333" stroke-width="0.8" />
<line x1="551.56" y1="182.30" x2="551.56" y2="181.20" stroke="#333" stroke-width="0.7" />
<line x1="551.56" y1="182.30" x2="551.56" y2="183.40" stroke="#333" stroke-width="0.7" />
<line x1="551.56" y1="221.20" x2="551.56" y2="219.90" stroke="#333" stroke-width="0.8" />
<line x1="565.76" y1="6.00" x2="565.76" y2="8.20" stroke="#333" stroke-width="0.8" />
<line x1="565.76" y1="145.50" x2="565.76" y2="143.30" stroke="#333" stroke-width="0.8" />
<line x1="565.76" y1="182.30" x2="565.76" y2="181.20" stroke="#333" stroke-width="0.7" />
<line x1="565.76" y1="182.30" x2="565.76" y2="183.40" stroke="#333" stroke-width="0.7" />
<line x1="565.76" y1="221.20" x2="565.76" y2="219.90" stroke="#333" stroke-width="0.8" />
<line x1="575.83" y1="6.00" x2="575.83" y2="8.20" stroke="#333" stroke-width="0.8" />
<line x1="575.83" y1="145.50" x2="575.83" y2="143.30" stroke="#333" stroke-width="0.8" />
<line x1="575.83" y1="182.30" x2="575.83" y2="181.20" stroke="#333" stroke-width="0.7" />
<line x1="575.83" y1="182.30" x2="575.83" y2="183.40" stroke="#333" stroke-width="0.7" />
<line x1="575.83" y1="221.20" x2="575.83" y2="219.90" stroke="#333" stroke-width="0.8" />
<line x1="583.64" y1="6.00" x2="583.64" y2="8.20" stroke="#333" stroke-width="0.8" />
<line x1="583.64" y1="145.50" x2="583.64" y2="143.30" stroke="#333" stroke-width="0.8" />
<line x1="583.64" y1="182.30" x2="583.64" y2="181.20" stroke="#333" stroke-width="0.7" />
<line x1="583.64" y1="182.30" x2="583.64" y2="183.40" stroke="#333" stroke-width="0.7" />
<line x1="583.64" y1="221.20" x2="583.64" y2="219.90" stroke="#333" stroke-width="0.8" />
<line x1="590.02" y1="6.00" x2="590.02" y2="8.20" stroke="#333" stroke-width="0.8" />
<line x1="590.02" y1="145.50" x2="590.02" y2="143.30" stroke="#333" stroke-width="0.8" />
<line x1="590.02" y1="182.30" x2="590.02" y2="181.20" stroke="#333" stroke-width="0.7" />
<line x1="590.02" y1="182.30" x2="590.02" y2="183.40" stroke="#333" stroke-width="0.7" />
<line x1="590.02" y1="221.20" x2="590.02" y2="219.90" stroke="#333" stroke-width="0.8" />
<line x1="595.41" y1="6.00" x2="595.41" y2="8.20" stroke="#333" stroke-width="0.8" />
<line x1="595.41" y1="145.50" x2="595.41" y2="143.30" stroke="#333" stroke-width="0.8" />
<line x1="595.41" y1="182.30" x2="595.41" y2="181.20" stroke="#333" stroke-width="0.7" />
<line x1="595.41" y1="182.30" x2="595.41" y2="183.40" stroke="#333" stroke-width="0.7" />
<line x1="595.41" y1="221.20" x2="595.41" y2="219.90" stroke="#333" stroke-width="0.8" />
<line x1="600.09" y1="6.00" x2="600.09" y2="8.20" stroke="#333" stroke-width="0.8" />
<line x1="600.09" y1="145.50" x2="600.09" y2="143.30" stroke="#333" stroke-width="0.8" />
<line x1="600.09" y1="182.30" x2="600.09" y2="181.20" stroke="#333" stroke-width="0.7" />
<line x1="600.09" y1="182.30" x2="600.09" y2="183.40" stroke="#333" stroke-width="0.7" />
<line x1="600.09" y1="221.20" x2="600.09" y2="219.90" stroke="#333" stroke-width="0.8" />
<line x1="604.21" y1="6.00" x2="604.21" y2="8.20" stroke="#333" stroke-width="0.8" />
<line x1="604.21" y1="145.50" x2="604.21" y2="143.30" stroke="#333" stroke-width="0.8" />
<line x1="604.21" y1="182.30" x2="604.21" y2="181.20" stroke="#333" stroke-width="0.7" />
<line x1="604.21" y1="182.30" x2="604.21" y2="183.40" stroke="#333" stroke-width="0.7" />
<line x1="604.21" y1="221.20" x2="604.21" y2="219.90" stroke="#333" stroke-width="0.8" />
<line x1="607.90" y1="6.00" x2="607.90" y2="9.40" stroke="#111" stroke-width="0.8" />
<line x1="607.90" y1="145.50" x2="607.90" y2="142.10" stroke="#111" stroke-width="0.8" />
<line x1="607.90" y1="182.30" x2="607.90" y2="180.60" stroke="#111" stroke-width="0.7" />
<line x1="607.90" y1="182.30" x2="607.90" y2="184.00" stroke="#111" stroke-width="0.7" />
<line x1="607.90" y1="221.20" x2="607.90" y2="218.80" stroke="#111" stroke-width="0.8" />
<line x1="632.16" y1="6.00" x2="632.16" y2="8.20" stroke="#333" stroke-width="0.8" />
<line x1="632.16" y1="145.50" x2="632.16" y2="143.30" stroke="#333" stroke-width="0.8" />
<line x1="632.16" y1="182.30" x2="632.16" y2="181.20" stroke="#333" stroke-width="0.7" />
<line x1="632.16" y1="182.30" x2="632.16" y2="183.40" stroke="#333" stroke-width="0.7" />
<line x1="632.16" y1="221.20" x2="632.16" y2="219.90" stroke="#333" stroke-width="0.8" />
<line x1="646.36" y1="6.00" x2="646.36" y2="8.20" stroke="#333" stroke-width="0.8" />
<line x1="646.36" y1="145.50" x2="646.36" y2="143.30" stroke="#333" stroke-width="0.8" />
<line x1="646.36" y1="182.30" x2="646.36" y2="181.20" stroke="#333" stroke-width="0.7" />
<line x1="646.36" y1="182.30" x2="646.36" y2="183.40" stroke="#333" stroke-width="0.7" />
<line x1="646.36" y1="221.20" x2="646.36" y2="219.90" stroke="#333" stroke-width="0.8" />
<line x1="656.43" y1="6.00" x2="656.43" y2="8.20" stroke="#333" stroke-width="0.8" />
<line x1="656.43" y1="145.50" x2="656.43" y2="143.30" stroke="#333" stroke-width="0.8" />
<line x1="656.43" y1="182.30" x2="656.43" y2="181.20" stroke="#333" stroke-width="0.7" />
<line x1="656.43" y1="182.30" x2="656.43" y2="183.40" stroke="#333" stroke-width="0.7" />
<line x1="656.43" y1="221.20" x2="656.43" y2="219.90" stroke="#333" stroke-width="0.8" />
<line x1="664.24" y1="6.00" x2="664.24" y2="8.20" stroke="#333" stroke-width="0.8" />
<line x1="664.24" y1="145.50" x2="664.24" y2="143.30" stroke="#333" stroke-width="0.8" />
<line x1="664.24" y1="182.30" x2="664.24" y2="181.20" stroke="#333" stroke-width="0.7" />
<line x1="664.24" y1="182.30" x2="664.24" y2="183.40" stroke="#333" stroke-width="0.7" />
<line x1="664.24" y1="221.20" x2="664.24" y2="219.90" stroke="#333" stroke-width="0.8" />
<line x1="670.62" y1="6.00" x2="670.62" y2="8.20" stroke="#333" stroke-width="0.8" />
<line x1="670.62" y1="145.50" x2="670.62" y2="143.30" stroke="#333" stroke-width="0.8" />
<line x1="670.62" y1="182.30" x2="670.62" y2="181.20" stroke="#333" stroke-width="0.7" />
<line x1="670.62" y1="182.30" x2="670.62" y2="183.40" stroke="#333" stroke-width="0.7" />
<line x1="670.62" y1="221.20" x2="670.62" y2="219.90" stroke="#333" stroke-width="0.8" />
<line x1="676.01" y1="6.00" x2="676.01" y2="8.20" stroke="#333" stroke-width="0.8" />
<line x1="676.01" y1="145.50" x2="676.01" y2="143.30" stroke="#333" stroke-width="0.8" />
<line x1="676.01" y1="182.30" x2="676.01" y2="181.20" stroke="#333" stroke-width="0.7" />
<line x1="676.01" y1="182.30" x2="676.01" y2="183.40" stroke="#333" stroke-width="0.7" />
<line x1="676.01" y1="221.20" x2="676.01" y2="219.90" stroke="#333" stroke-width="0.8" />
<line x1="680.69" y1="6.00" x2="680.69" y2="8.20" stroke="#333" stroke-width="0.8" />
<line x1="680.69" y1="145.50" x2="680.69" y2="143.30" stroke="#333" stroke-width="0.8" />
<line x1="680.69" y1="182.30" x2="680.69" y2="181.20" stroke="#333" stroke-width="0.7" />
<line x1="680.69" y1="182.30" x2="680.69" y2="183.40" stroke="#333" stroke-width="0.7" />
<line x1="680.69" y1="221.20" x2="680.69" y2="219.90" stroke="#333" stroke-width="0.8" />
<line x1="389.90" y1="153.50" x2="399.40" y2="153.50" stroke="#111" stroke-width="1.0" />
<line x1="684.60" y1="153.50" x2="678.60" y2="153.50" stroke="#111" stroke-width="1.0" />
<line x1="389.90" y1="164.50" x2="395.40" y2="164.50" stroke="#111" stroke-width="1.0" />
<line x1="684.60" y1="164.50" x2="678.60" y2="164.50" stroke="#111" stroke-width="1.0" />
<line x1="389.90" y1="174.50" x2="399.40" y2="174.50" stroke="#111" stroke-width="1.0" />
<line x1="684.60" y1="174.50" x2="678.60" y2="174.50" stroke="#111" stroke-width="1.0" />
<line x1="389.90" y1="188.50" x2="396.90" y2="188.50" stroke="#111" stroke-width="1.0" />
<line x1="684.60" y1="188.50" x2="678.60" y2="188.50" stroke="#111" stroke-width="1.0" />
<line x1="389.90" y1="201.50" x2="396.90" y2="201.50" stroke="#111" stroke-width="1.0" />
<line x1="684.60" y1="201.50" x2="678.60" y2="201.50" stroke="#111" stroke-width="1.0" />
<line x1="389.90" y1="215.50" x2="396.90" y2="215.50" stroke="#111" stroke-width="1.0" />
<line x1="684.60" y1="215.50" x2="678.60" y2="215.50" stroke="#111" stroke-width="1.0" />
<line x1="389.90" y1="6.20" x2="684.60" y2="6.20" stroke="#666" stroke-width="1.3" />
<line x1="389.90" y1="145.70" x2="684.60" y2="145.70" stroke="#777" stroke-width="1.4" />
<line x1="389.90" y1="182.30" x2="684.60" y2="182.30" stroke="#333" stroke-width="1.2" />
<line x1="389.90" y1="221.20" x2="684.60" y2="221.20" stroke="#222" stroke-width="1.1" />
<line x1="389.90" y1="5.50" x2="389.90" y2="221.70" stroke="#222" stroke-width="1.1" />
<line x1="684.80" y1="5.50" x2="684.80" y2="221.70" stroke="#888" stroke-width="1.0" />
<path d="M389.90,221.70 L389.90,201.60 L414.63,201.60 L414.63,195.50 L438.89,195.50 L438.89,213.30 L453.08,213.30 L453.08,204.30 L463.15,204.30 L463.15,200.80 L470.96,200.80 L470.96,196.60 L477.35,196.60 L477.35,192.50 L483.97,192.50 L483.97,198.50 L489.54,198.50 L489.54,208.20 L494.34,208.20 L494.34,186.10 L499.35,186.10 L499.35,203.10 L503.73,203.10 L503.73,203.10 L507.62,203.10 L507.62,201.80 L511.68,201.80 L511.68,188.90 L515.80,188.90 L515.80,191.40 L519.92,191.40 L519.92,197.90 L524.00,197.90 L524.00,197.90 L527.99,197.90 L527.99,207.30 L531.89,207.30 L531.89,193.50 L535.94,193.50 L535.94,204.90 L540.31,204.90 L540.31,203.60 L544.83,203.60 L544.83,200.80 L549.58,200.80 L549.58,193.50 L554.74,193.50 L554.74,211.90 L560.48,211.90 L560.48,204.00 L567.13,204.00 L567.13,203.10 L575.03,203.10 L575.03,200.70 L585.28,200.70 L585.28,214.10 L595.16,214.10 L595.16,207.70 L604.91,207.70 L604.91,209.20 L612.88,209.20 L612.88,210.40 L622.00,210.40 L622.00,209.00 L631.22,209.00 L631.22,207.30 L640.28,207.30 L640.28,204.90 L649.45,204.90 L649.45,211.00 L664.24,211.00 L664.24,203.20 L688.50,203.20 L688.50,221.70" fill="none" stroke="#1c6bd3" stroke-width="1.3" clip-path="url(#clR)"/>
<text transform="translate(387.00,9.60) scale(0.95,1)" font-size="9.1" text-anchor="end">10<tspan font-size="6.3" dy="-3.7">4</tspan></text>
<text transform="translate(387.00,27.77) scale(0.95,1)" font-size="9.1" text-anchor="end">10<tspan font-size="6.3" dy="-3.7">3</tspan></text>
<text transform="translate(387.00,45.94) scale(0.95,1)" font-size="9.1" text-anchor="end">10<tspan font-size="6.3" dy="-3.7">2</tspan></text>
<text transform="translate(386.20,64.11) scale(0.95,1)" font-size="9.1" text-anchor="end" >10</text>
<text transform="translate(386.40,82.38) scale(0.95,1)" font-size="9.1" text-anchor="end" >1</text>
<text transform="translate(386.60,100.45) scale(0.95,1)" font-size="9.1" text-anchor="end">10<tspan font-size="6.3" dy="-3.7">&#8722;1</tspan></text>
<text transform="translate(386.60,118.62) scale(0.95,1)" font-size="9.1" text-anchor="end">10<tspan font-size="6.3" dy="-3.7">&#8722;2</tspan></text>
<text transform="translate(386.60,136.79) scale(0.95,1)" font-size="9.1" text-anchor="end">10<tspan font-size="6.3" dy="-3.7">&#8722;3</tspan></text>
<text transform="translate(389.10,156.90) scale(0.95,1)" font-size="9.1" text-anchor="end" >1.02</text>
<text transform="translate(389.10,167.50) scale(0.95,1)" font-size="9.1" text-anchor="end" >1</text>
<text transform="translate(389.10,178.10) scale(0.95,1)" font-size="9.1" text-anchor="end" >0.98</text>
<text transform="translate(388.60,191.80) scale(0.95,1)" font-size="9.1" text-anchor="end" >2</text>
<text transform="translate(388.60,205.30) scale(0.95,1)" font-size="9.1" text-anchor="end" >0</text>
<text transform="translate(388.60,218.80) scale(0.95,1)" font-size="9.1" text-anchor="end" >&#8722;2</text>
<text transform="translate(446.30,232.2) scale(0.95,1)" font-size="9.1" text-anchor="middle">10<tspan font-size="6.3" dy="-3.7">&#8722;2</tspan></text>
<text transform="translate(527.30,232.2) scale(0.95,1)" font-size="9.1" text-anchor="middle">10<tspan font-size="6.3" dy="-3.7">&#8722;1</tspan></text>
<text transform="translate(609.00,231.80) scale(0.95,1)" font-size="9.1" text-anchor="middle" >1</text>
<text x="675.3" y="235.5" font-size="9.2">&#966;<tspan font-size="6.4" dy="3">&#951;</tspan><tspan font-size="6.4" dx="-3.5" dy="-7.4">*</tspan></text>
<text transform="translate(359.4,57.4) rotate(-90) scale(0.93,1)" font-size="10.6">1/&#963; d&#963;/d&#966;<tspan font-size="8" dx="1.7" dy="-2.4">*</tspan><tspan font-size="6.2" dx="-1.0" dy="7.9">&#951;</tspan></text>
<text transform="translate(361.4,167.3) rotate(-90)" font-size="9.3">Ratio</text>
<text transform="translate(361.4,212.8) rotate(-90)" font-size="9.3">Pull [&#963;]</text>
<text transform="translate(400.30,18.50) scale(1.0,1)" font-size="10.4" text-anchor="start" font-weight="bold" font-style="italic">ATLAS</text>
<path d="M400.60,27.70 L401.50,27.20 L402.60,31.70 L403.80,22.90 L408.50,22.90" fill="none" stroke="#111" stroke-width="0.9"/>
<text x="403.90" y="31.30" font-size="9.3">s=13 TeV, 36.1 fb<tspan font-size="6" dy="-3.6">-1</tspan></text>
<rect x="603.70" y="10.90" width="12.00" height="11.90" fill="#97c8fb" />
<line x1="603.70" y1="16.60" x2="615.70" y2="16.60" stroke="#1c6bd3" stroke-width="1.4" />
<line x1="603.70" y1="33.60" x2="615.70" y2="33.60" stroke="#ffc800" stroke-width="1.0" />
<polygon points="607.40,35.20 612.00,35.20 609.70,31.40" fill="#ffc800"/>
<line x1="603.70" y1="51.00" x2="615.70" y2="51.00" stroke="#ff3a00" stroke-width="1.0" />
<polygon points="607.40,49.40 612.00,49.40 609.70,53.20" fill="#ff3a00"/>
<text x="617.80" y="19.90" font-size="9.2">Z/&#947;</text>
<text x="630.70" y="18.90" font-size="8">*</text>
<path d="M634.40,17.70 L641.60,17.70 M639.60,16.10 L641.70,17.70 L639.60,19.30" fill="none" stroke="#222" stroke-width="0.75"/>
<text x="642.40" y="19.90" font-size="9.2">ll</text>
<text x="617.80" y="36.90" font-size="9.2">Z/&#947;</text>
<text x="630.70" y="35.90" font-size="8">*</text>
<path d="M634.40,34.70 L641.60,34.70 M639.60,33.10 L641.70,34.70 L639.60,36.30" fill="none" stroke="#222" stroke-width="0.75"/>
<text x="642.40" y="36.90" font-size="9.2">ee</text>
<text x="617.80" y="54.30" font-size="9.2">Z/&#947;</text>
<text x="630.70" y="53.30" font-size="8">*</text>
<path d="M634.40,52.10 L641.60,52.10 M639.60,50.50 L641.70,52.10 L639.60,53.70" fill="none" stroke="#222" stroke-width="0.75"/>
<text x="642.40" y="54.30" font-size="9.2">&#956;&#956;</text></svg>
</body></html>
